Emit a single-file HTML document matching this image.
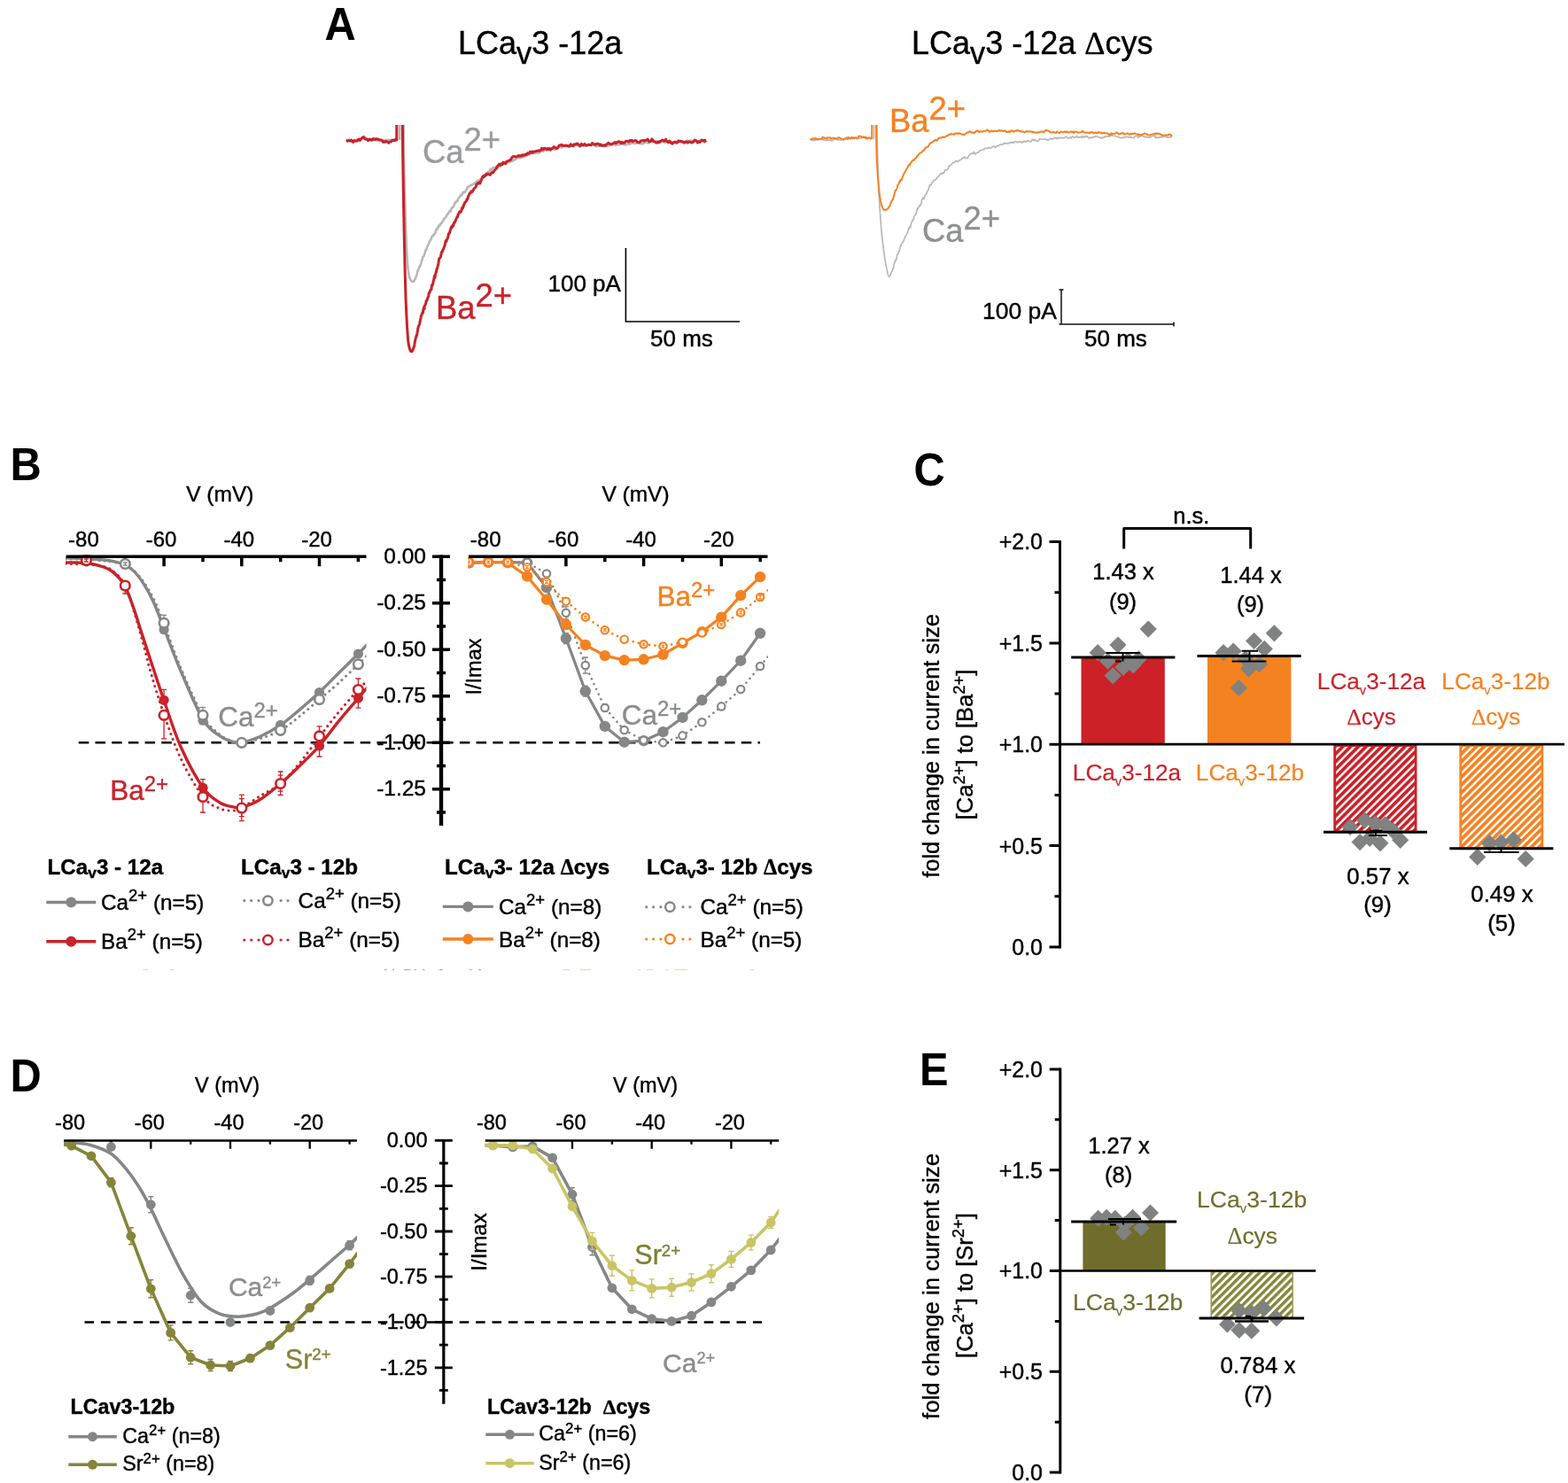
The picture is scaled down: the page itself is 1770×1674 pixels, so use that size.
<!DOCTYPE html>
<html lang="en"><head><meta charset="utf-8"><title>Figure</title>
<style>
html,body{margin:0;padding:0;background:#fff;}
body{width:1770px;height:1674px;overflow:hidden;}
svg{display:block;font-family:"Liberation Sans", sans-serif;}
.d{font-family:"Liberation Serif",serif;}
text{stroke-width:0.4px;}
</style></head>
<body>
<svg width="1770" height="1674" viewBox="0 0 1770 1674">
<rect width="1770" height="1674" fill="#fff"/>
<g id="panelA">
<text transform="translate(366.5 45) scale(0.93 1)" font-size="52.5" font-weight="bold" stroke="none">A</text>
<text x="517" y="61" font-size="36" fill="#000" stroke="#000">LCa<tspan dy="11.2" font-size="34.2">v</tspan><tspan dy="-11.2">3 -12a</tspan></text>
<text x="1029" y="61" font-size="36" fill="#000" stroke="#000">LCa<tspan dy="11.2" font-size="34.2">v</tspan><tspan dy="-11.2">3 -12a </tspan><tspan class="d">Δ</tspan>cys</text>
<path d="M390.8 157.6 L391.4 158.1 L392.2 158 L393.1 157.9 L394.1 157.5 L395.2 157.8 L396.3 158.8 L397.5 159 L398.7 159.5 L399.9 159.3 L400.8 159.2 L401.8 159 L402.7 157.6 L403.7 158.3 L404.7 158.4 L405.7 158.4 L406.8 157 L407.8 156.1 L408.9 156 L409.9 156.2 L411 156.7 L412 156.9 L413 157.3 L414 156.9 L415 157.3 L416 157.6 L417 157.2 L418.1 158.4 L419.1 158.5 L420.1 159 L421.1 158.2 L422.2 157.7 L423.2 157.7 L424.2 157.9 L425.2 158.4 L426.3 158.6 L427.3 158.2 L428.4 157.8 L429.4 157.8 L430.5 158.8 L431.5 158.3 L432.6 158.6 L433.6 158.9 L434.6 157.9 L435.6 158.3 L436.6 159.3 L437.5 157.9 L438.5 158.1 L439.7 158.3 L441 157.9 L442.2 158.5 L443.3 158.5 L444.4 157.6 L445.4 158.4 L446.3 158.8 L447 159.2 L447.6 159.8 M451.2 158 L451.2 141 M455.6 141 L455.6 141.5 L455.6 142.1 L455.6 142.7 L455.6 143.3 L455.6 144 L455.6 144.7 L455.6 145.4 L455.6 146.2 L455.6 146.9 L455.6 147.8 L455.6 148.6 L455.7 149.5 L455.7 150.4 L455.7 151.3 L455.7 152.3 L455.7 153.3 L455.7 154.3 L455.7 155.3 L455.7 156.3 L455.7 157.4 L455.7 158.4 L455.7 159.5 L455.7 160.6 L455.7 161.8 L455.7 162.9 L455.8 164 L455.8 165.2 L455.8 166.4 L455.8 167.6 L455.8 168.7 L455.8 169.9 L455.8 171.1 L455.8 172.3 L455.9 173.6 L455.9 174.8 L455.9 176 L455.9 177.2 L455.9 178.4 L456 179.6 L456 180.9 L456 182 L456 182.9 L456 183.8 L456.1 184.7 L456.1 185.6 L456.1 186.5 L456.1 187.4 L456.1 188.3 L456.1 189.2 L456.2 190.2 L456.2 191.2 L456.2 192.1 L456.2 193.1 L456.3 194.1 L456.3 195.1 L456.3 196.1 L456.3 197.1 L456.3 198.1 L456.4 199.1 L456.4 200.1 L456.4 201.1 L456.4 202.2 L456.5 203.2 L456.5 204.2 L456.5 205.3 L456.5 206.3 L456.6 207.4 L456.6 208.4 L456.6 209.5 L456.7 210.5 L456.7 211.6 L456.7 212.6 L456.7 213.7 L456.8 214.7 L456.8 215.8 L456.8 216.9 L456.8 217.9 L456.9 219 L456.9 220 L456.9 221.1 L457 222.1 L457 223.2 L457 224.2 L457.1 225.2 L457.1 226.3 L457.1 227.3 L457.1 228.3 L457.2 229.3 L457.2 230.4 L457.2 231.4 L457.3 232.4 L457.3 233.4 L457.3 234.3 L457.4 235.3 L457.4 236.3 L457.4 237.3 L457.4 238.2 L457.5 239.2 L457.5 240.1 L457.5 241.2 L457.6 242.3 L457.6 243.4 L457.6 244.5 L457.7 245.6 L457.7 246.7 L457.8 247.8 L457.8 248.9 L457.8 250 L457.9 251.1 L457.9 252.2 L457.9 253.3 L458 254.4 L458 255.5 L458.1 256.6 L458.1 257.7 L458.1 258.8 L458.2 259.9 L458.2 261 L458.2 262 L458.3 263.1 L458.3 264.2 L458.4 265.3 L458.4 266.3 L458.4 267.4 L458.5 268.4 L458.5 269.5 L458.6 270.5 L458.6 271.5 L458.6 272.5 L458.7 273.5 L458.7 274.5 L458.8 275.5 L458.8 276.5 L458.9 277.4 L458.9 278.4 L458.9 279.3 L459 280.2 L459 281.1 L459.1 282 L459.1 282.9 L459.2 283.8 L459.2 284.6 L459.2 285.5 L459.3 286.3 L459.3 287.1 L459.4 287.9 L459.4 288.6 L459.5 289.4 L459.5 290.2 L459.6 291.8 L459.7 293.3 L459.8 294.7 L459.9 296.1 L460 297.4 L460.1 298.6 L460.2 299.7 L460.3 300.8 L460.4 301.9 L460.5 302.9 L460.6 303.8 L460.7 304.7 L460.9 305.6 L461 306.4 L461.1 307.2 L461.2 307.9 L461.3 308.7 L461.5 309.4 L461.6 310.1 L461.7 310.7 L461.9 311.4 L462 312 L462.5 313.8 L463 315.1 L463.6 316.2 L464.2 316.9 L464.8 317.4 L465.4 317.8 L465.9 318 L466.5 318 L467.1 317.6 L467.7 316.8 L468.2 315.6 L468.9 314.3 L469.2 313.5 L469.5 312.7 L469.9 311.9 L470.2 311.1 L470.5 310.8 L470.8 308.4 L471.1 307.1 L471.5 305.4 L471.9 305.7 L472.2 304.1 L472.6 303.4 L473 302.4 L473.3 301.8 L473.6 300.7 L473.9 300.2 L474.3 300.5 L474.6 299.2 L474.9 298.4 L475.2 297.8 L475.6 296.3 L475.9 294.4 L476.3 293.3 L476.7 293.2 L477 291.1 L477.4 290.1 L477.8 290 L478.2 289.5 L478.6 288.3 L479 287.6 L479.4 286.6 L479.8 284.8 L480.2 283.1 L480.6 282.3 L481 282.4 L481.4 281.1 L481.8 279.8 L482.2 278.7 L482.7 277.2 L483.1 276.8 L483.5 275.5 L484 275.3 L484.4 273.2 L484.9 273.2 L485.3 272.2 L485.7 270.5 L486.2 270.7 L486.6 269.9 L487 267.9 L487.5 267.2 L488 267.1 L488.5 266.1 L488.9 266 L489.4 265.5 L489.9 264.8 L490.4 263.8 L490.9 263.5 L491.4 262.6 L491.9 261.5 L492.4 259 L492.9 259 L493.4 259 L493.9 257.6 L494.4 256.4 L494.9 256.8 L495.5 254.4 L496 254.1 L496.6 254.7 L497.2 252.7 L497.8 252.1 L498.4 252.2 L499 250.8 L499.6 250 L500.3 249.4 L500.9 247.7 L501.5 246.8 L502.1 246.3 L502.8 245.9 L503.4 244.9 L504 243.9 L504.6 242.4 L505.2 241.6 L505.8 241.6 L506.3 240.7 L506.9 239.3 L507.5 238.1 L508 239.2 L508.6 238.6 L509.1 237.6 L509.7 234.7 L510.2 234.6 L510.7 234.1 L511.3 234.2 L511.8 233.1 L512.4 231.9 L513 231.1 L513.5 228.9 L514.1 229 L514.7 228.3 L515.3 226.9 L515.9 227 L516.5 227 L517.1 224.7 L517.8 223.5 L518.4 223 L519 222.3 L519.6 221.2 L520.2 219.9 L520.9 220.7 L521.5 220.2 L522.1 218.3 L522.7 216.8 L523.3 217.5 L524 217.1 L524.8 217 L525.5 216.1 L526.3 214.2 L527 213.5 L527.7 211.4 L528.4 210.7 L529.2 210.5 L529.9 210.5 L530.6 209.5 L531.4 209.1 L532.2 208.9 L533 208.5 L533.8 208.3 L534.7 207.6 L535.5 206.8 L536.4 206.7 L537.2 206 L538.1 204.9 L538.9 204.1 L539.8 203.8 L540.6 203.3 L541.4 202.9 L542.2 202.4 L543 201.9 L543.8 201.1 L544.5 199.7 L545.3 199.7 L546.1 199.7 L546.9 199.2 L547.7 198.2 L548.4 197.7 L549.2 196.3 L550 194.6 L550.7 194.6 L551.5 193.7 L552.1 194 L552.8 192.8 L553.5 190.9 L554.1 190.5 L554.9 191.6 L555.6 190.9 L556.5 189.5 L557.5 188.8 L558.5 188.9 L559.4 188.9 L560.1 188.5 L560.9 189 L561.7 188.6 L562.5 187.7 L563.4 187.4 L564.3 187.6 L565.2 187.2 L566.2 186.8 L567.1 185 L568.1 184.4 L569 184.4 L570 183.5 L571 183.7 L572 183.3 L573 183.2 L573.9 182.2 L574.9 183.2 L575.8 182.8 L576.7 181.6 L577.7 180.9 L578.7 181.9 L579.6 180.6 L580.6 180.4 L581.5 180.3 L582.5 179.5 L583.5 178.2 L584.4 178.1 L585.4 178.1 L586.4 178.5 L587.3 178.4 L588.3 177.8 L589.3 177.9 L590.2 177.6 L591.2 177.1 L592.2 176.7 L593.1 176.1 L594.1 176.2 L595.1 175.1 L596 174.6 L597 174.6 L597.9 173.5 L598.9 173.4 L599.9 172.3 L600.8 172.3 L601.8 173 L602.8 173.3 L603.7 173 L604.7 172.5 L605.7 171.5 L606.6 172.7 L607.6 172.5 L608.6 172.7 L609.5 171.5 L610.5 171.1 L611.5 169.7 L612.4 170.4 L613.4 170.9 L614.4 169.3 L615.3 169.4 L616.3 169.8 L617.3 168.5 L618.3 167.6 L619.2 167.4 L620.2 167.5 L621.2 167 L622.2 167.5 L623.2 167.9 L624.1 168.3 L625.1 168.5 L626.1 169.1 L627.1 169.1 L628.1 167.5 L629.1 167 L630.1 166.3 L631.1 165.8 L632.1 166.1 L633 166.2 L634 166.6 L635 165.4 L636 164.9 L637 165.2 L638 165.3 L639.1 165.2 L640.1 165.2 L641.1 164.8 L642.1 165.3 L643.1 165.4 L644.1 165.2 L645.1 164.6 L646.1 164.5 L647.1 162.9 L648 162.9 L649 163.6 L649.9 163 L651 163.6 L651.9 164 L652.9 163.3 L653.8 163.6 L654.6 163.7 L655.5 164.3 L656.3 164.7 L657.2 164.6 L658 164.1 L658.9 164.2 L659.9 164.3 L660.8 164.9 L661.9 164.9 L663 164.4 L664.2 163.6 L665.5 163.7 L667 163.6 L667.7 163.2 L668.5 163.6 L669.4 163.6 L670.2 163.9 L671.1 164.4 L672 164.1 L673 165.5 L673.9 164.7 L674.9 165.1 L675.9 164.7 L676.9 165.1 L677.9 163.1 L678.9 162.9 L680 163.4 L681 163.9 L682.1 165.2 L683.2 164.7 L684.3 165 L685.3 164.8 L686.4 164.8 L687.5 164.5 L688.6 163.8 L689.7 163.8 L690.7 162.8 L691.8 163.6 L692.9 162.7 L693.9 162.9 L695 164.1 L696 163.4 L697 163.1 L698 163.6 L699 163.2 L700 162.4 L701 162.5 L702 162.8 L703.1 163 L704.1 162.2 L705.1 163.2 L706.1 163.7 L707.1 163 L708.2 162.7 L709.2 162.1 L710.2 162.8 L711.2 161.9 L712.2 162.1 L713.1 161.6 L714.1 161.1 L715.1 161.6 L716.1 162.3 L717.1 161.8 L718.1 161.1 L719.1 161.6 L720 161.3 L721 161.3 L722 162.1 L723 162.2 L724 161.3 L725 162.5 L725.9 161.7 L726.9 161.7 L727.9 160.9 L728.9 160.7 L729.9 159.5 L730.9 161 L731.9 161.6 L732.9 160.3 L733.9 159.4 L734.8 158.8 L735.8 160.1 L736.8 159.9 L737.8 160 L738.7 159.9 L739.7 159.9 L740.6 159.4 L741.6 159.7 L742.6 159 L743.5 159.4 L744.5 159.9 L745.5 160.3 L746.5 160.1 L747.4 159.5 L748.4 159.9 L749.4 159.7 L750.4 160.8 L751.4 161 L752.5 160.5 L753.5 160.1 L754.5 159.6 L755.6 159.2 L756.7 159.3 L757.7 159.8 L758.8 160.2 L760 160.5 L760.9 161.5 L761.8 160.5 L762.8 160.3 L763.9 161.9 L764.9 159.9 L766 159.6 L767.1 159.8 L768.2 159.9 L769.3 160.1 L770.4 159.9 L771.6 160.1 L772.8 160 L773.9 160.4 L775.1 159 L776.3 158.7 L777.4 159.1 L778.6 158.7 L779.8 158.5 L780.9 159.3 L782.1 159.1 L783.2 159.7 L784.3 160.1 L785.4 160.1 L786.4 160.2 L787.5 159.9 L788.5 158.9 L789.5 159.2 L790.4 159.6 L791.3 159.3 L792.2 159.3 L793 159.9 L793.8 159.2 L794.6 159.7 L795.2 160.8 L795.9 159.9 L796.5 159.8 L797 159.6" stroke="#b8b8b8" stroke-width="2.6" fill="none" stroke-linejoin="round" stroke-linecap="butt"/>
<path d="M390.8 158.8 L391.4 158.8 L392.2 159.4 L393.2 158.6 L394.3 158.9 L395.5 159.1 L396.6 158 L397.7 159.8 L398.7 160.4 L399.7 158.5 L400.6 159.3 L401.6 158.9 L402.6 159 L403.6 158.9 L404.6 157.2 L405.6 157.1 L406.5 158.3 L407.5 157.2 L408.5 156.1 L409.4 155.1 L410.4 154.5 L411.4 155.4 L412.4 157 L413.4 157.1 L414.4 157.1 L415.4 158.8 L416.4 157.7 L417.4 157 L418.5 157.7 L419.5 158.1 L420.5 157.2 L421.5 156.5 L422.5 157.2 L423.5 157.6 L424.5 156.7 L425.5 157 L426.6 156.9 L427.6 157.8 L428.6 157.9 L429.6 158.1 L430.6 158.1 L431.7 159.3 L432.7 160.4 L433.7 159.8 L434.7 160.4 L435.6 159.6 L436.6 159.7 L437.7 160.3 L438.7 161.3 L439.7 160.3 L440.7 159.9 L441.6 159.8 L442.7 158.3 L443.8 158.6 L445 158.1 L446 158.5 L446.9 157.5 L447.6 156.2 M447.8 159 L447.8 141 M454.4 141 L454.4 141.5 L454.4 142.1 L454.4 142.6 L454.4 143.2 L454.4 143.8 L454.4 144.4 L454.4 145.1 L454.4 145.8 L454.4 146.5 L454.4 147.2 L454.5 148 L454.5 148.8 L454.5 149.6 L454.5 150.4 L454.5 151.3 L454.5 152.2 L454.5 153.1 L454.5 154 L454.5 155 L454.5 155.9 L454.5 156.9 L454.5 158 L454.5 159 L454.5 160.1 L454.6 161.2 L454.6 162.3 L454.6 163.5 L454.6 164.6 L454.6 165.8 L454.6 167.1 L454.6 168.3 L454.6 169.6 L454.7 170.9 L454.7 172.2 L454.7 173.5 L454.7 174.9 L454.7 176.3 L454.7 177.7 L454.8 179.1 L454.8 180.5 L454.8 182 L454.8 182.8 L454.8 183.5 L454.8 184.3 L454.8 185.1 L454.9 185.9 L454.9 186.8 L454.9 187.6 L454.9 188.4 L454.9 189.3 L454.9 190.2 L454.9 191.1 L455 191.9 L455 192.8 L455 193.8 L455 194.7 L455 195.6 L455 196.6 L455 197.5 L455.1 198.5 L455.1 199.4 L455.1 200.4 L455.1 201.4 L455.1 202.4 L455.1 203.4 L455.1 204.4 L455.2 205.4 L455.2 206.4 L455.2 207.4 L455.2 208.4 L455.2 209.5 L455.2 210.5 L455.3 211.6 L455.3 212.6 L455.3 213.7 L455.3 214.7 L455.3 215.8 L455.3 216.8 L455.4 217.9 L455.4 219 L455.4 220 L455.4 221.1 L455.4 222.2 L455.5 223.3 L455.5 224.4 L455.5 225.4 L455.5 226.5 L455.5 227.6 L455.6 228.7 L455.6 229.8 L455.6 230.9 L455.6 232 L455.6 233 L455.6 234.1 L455.7 235.2 L455.7 236.3 L455.7 237.4 L455.7 238.5 L455.7 239.5 L455.8 240.6 L455.8 241.7 L455.8 242.7 L455.8 243.8 L455.8 244.9 L455.9 245.9 L455.9 247 L455.9 248 L455.9 249.1 L455.9 250.1 L456 251.1 L456 252.2 L456 253.2 L456 254.2 L456 255.2 L456.1 256.2 L456.1 257.2 L456.1 258.2 L456.1 259.2 L456.1 260.2 L456.2 261.1 L456.2 262.1 L456.2 263 L456.2 264.1 L456.2 265.2 L456.3 266.2 L456.3 267.3 L456.3 268.4 L456.3 269.4 L456.4 270.5 L456.4 271.6 L456.4 272.6 L456.4 273.7 L456.4 274.8 L456.5 275.9 L456.5 276.9 L456.5 278 L456.5 279.1 L456.6 280.2 L456.6 281.2 L456.6 282.3 L456.6 283.4 L456.7 284.4 L456.7 285.5 L456.7 286.6 L456.7 287.6 L456.8 288.7 L456.8 289.8 L456.8 290.8 L456.8 291.9 L456.8 292.9 L456.9 294 L456.9 295 L456.9 296.1 L456.9 297.1 L457 298.2 L457 299.2 L457 300.2 L457 301.3 L457.1 302.3 L457.1 303.3 L457.1 304.4 L457.1 305.4 L457.2 306.4 L457.2 307.4 L457.2 308.4 L457.2 309.4 L457.3 310.4 L457.3 311.4 L457.3 312.4 L457.3 313.4 L457.4 314.3 L457.4 315.3 L457.4 316.3 L457.5 317.2 L457.5 318.2 L457.5 319.1 L457.5 320.1 L457.6 321 L457.6 321.9 L457.6 322.9 L457.6 323.8 L457.7 324.7 L457.7 325.6 L457.7 326.5 L457.7 327.4 L457.8 328.3 L457.8 329.1 L457.8 330 L457.9 330.9 L457.9 331.7 L457.9 332.6 L457.9 333.4 L458 334.2 L458 335 L458 336.3 L458.1 337.6 L458.1 338.9 L458.2 340.1 L458.2 341.4 L458.3 342.6 L458.3 343.9 L458.4 345.1 L458.4 346.3 L458.5 347.5 L458.5 348.6 L458.6 349.8 L458.6 350.9 L458.7 352.1 L458.7 353.2 L458.8 354.3 L458.8 355.4 L458.9 356.5 L459 357.6 L459 358.6 L459.1 359.7 L459.1 360.7 L459.2 361.7 L459.2 362.7 L459.3 363.7 L459.3 364.7 L459.4 365.6 L459.4 366.5 L459.5 367.5 L459.5 368.4 L459.6 369.3 L459.6 370.1 L459.7 371 L459.7 371.8 L459.8 372.7 L459.9 373.5 L459.9 374.3 L460 375 L460 375.8 L460.1 376.5 L460.1 377.3 L460.2 378 L460.2 378.7 L460.3 379.3 L460.3 380 L460.5 382 L460.6 383.8 L460.8 385.3 L460.9 386.6 L461.1 387.7 L461.2 388.6 L461.4 389.4 L461.5 390 L461.7 390.6 L461.8 391.2 L462 391.7 L462.1 392.3 L462.3 392.9 L462.7 394.4 L463.2 395.6 L463.7 396.5 L464.2 396.9 L464.7 397 L465.2 396.7 L465.6 396 L466.1 394.9 L466.6 393.5 L466.9 392.5 L467.2 391.8 L467.4 391.1 L467.6 390.2 L467.8 389.6 L468 388.2 L468.2 386.5 L468.5 385.2 L468.7 384.1 L469 382.9 L469.3 381.2 L469.6 381.3 L469.8 379.6 L470 379.8 L470.2 378.2 L470.4 378 L470.6 378.2 L470.8 377 L471 375.2 L471.3 374.2 L471.5 373.3 L471.7 370.9 L472 369.9 L472.2 369.5 L472.5 368.3 L472.7 367.6 L473 367.4 L473.2 366.8 L473.5 366.2 L473.7 365.3 L474 363.6 L474.2 362.4 L474.5 361.1 L474.8 359.9 L475.1 358.8 L475.4 356.6 L475.7 356 L476 355.5 L476.3 354.1 L476.6 353.7 L476.8 353.4 L477.1 352.4 L477.5 353.2 L477.8 349.6 L478.1 348.9 L478.4 346.9 L478.7 347.5 L479 348.8 L479.3 345.1 L479.7 344.6 L480 344.3 L480.3 343.1 L480.7 342.6 L481 339.8 L481.4 340.1 L481.7 339.6 L482.1 338.6 L482.4 337.2 L482.8 336.9 L483.1 335.5 L483.5 334.8 L483.8 333.5 L484.1 330.9 L484.5 330.7 L484.8 330.4 L485.1 330.3 L485.4 328.6 L485.7 327.9 L486 327.6 L486.3 326.7 L486.6 326.7 L486.9 326.9 L487.2 324.4 L487.5 321.7 L487.8 321.9 L488.1 322.2 L488.4 321.4 L488.7 320.5 L489 318.4 L489.3 316.7 L489.6 316.5 L489.9 314.5 L490.3 312.1 L490.5 311.2 L490.8 313 L491 313.3 L491.3 311 L491.6 309.2 L491.8 308.6 L492.1 307 L492.4 307.3 L492.6 306 L492.9 304 L493.2 304.3 L493.5 302.6 L493.8 301.9 L494.1 300.8 L494.3 299.5 L494.6 298.9 L494.9 297.3 L495.2 295 L495.5 292.9 L495.8 292 L496.1 291.5 L496.4 291.4 L496.8 291 L497.1 290.8 L497.4 289.9 L497.7 288.3 L498 287 L498.3 284.8 L498.6 284.6 L498.9 284.6 L499.3 284.2 L499.6 283.1 L499.9 282 L500.3 281.8 L500.6 280.6 L500.9 280 L501.3 279.2 L501.6 278 L501.9 277.8 L502.3 275.8 L502.6 274.4 L503 272.8 L503.3 271.5 L503.7 272.2 L504 272.4 L504.3 270.8 L504.7 270 L505 269.6 L505.3 268.7 L505.7 268.1 L506.1 265.3 L506.5 263.7 L507 263.3 L507.4 263.4 L507.8 262 L508.2 260.1 L508.6 259 L509 257.7 L509.4 256.4 L509.8 257.1 L510.2 255.6 L510.6 254.8 L511 255.6 L511.5 255.1 L511.9 253.7 L512.3 251.8 L512.7 251.1 L513.1 251.3 L513.6 250.3 L514 249.9 L514.5 248.3 L515 247.3 L515.5 245.8 L516 245 L516.5 244.9 L517 242.3 L517.5 241.5 L518 240.9 L518.5 239.6 L519.1 238.7 L519.6 238.6 L520.1 239.3 L520.6 238.2 L521.1 237 L521.6 234.5 L522.1 235.4 L522.6 234.1 L523.1 232.9 L523.6 231 L524.1 230.3 L524.6 228.7 L525.1 228.3 L525.6 228 L526.1 227.1 L526.6 226.4 L527.1 224.7 L527.6 225.2 L528.1 223.5 L528.6 221.2 L529.1 220.7 L529.6 219.7 L530 218.5 L530.5 218 L531.1 217.9 L531.6 216.4 L532.1 216 L532.7 216.6 L533.4 216 L534 214.7 L534.6 213.8 L535.3 212.8 L536 211.9 L536.6 211.7 L537.3 210.6 L537.9 207.9 L538.6 207.9 L539.2 206.9 L539.9 207.2 L540.5 206.2 L541.1 205.9 L541.9 207 L542.6 204.8 L543.4 203.1 L544.1 201.6 L544.8 199.7 L545.5 198.7 L546.3 199.6 L547 199.1 L547.7 197.6 L548.5 196.7 L549.2 197.6 L549.9 196.8 L550.7 196.3 L551.5 196.4 L552.2 196.9 L553 197.5 L553.8 196.8 L554.6 195.5 L555.4 194.5 L556.2 194.9 L556.9 194.6 L557.7 192.8 L558.5 192.1 L559.3 191.3 L560.1 190.4 L560.9 189.1 L561.7 187.5 L562.5 186.8 L563.3 185.4 L564.1 186.6 L564.9 186.4 L565.7 184.8 L566.5 185.6 L567.3 185.5 L568.1 183.1 L569 184.3 L569.9 184.1 L570.8 184.8 L571.7 182.4 L572.6 182.2 L573.5 181.8 L574.4 181.3 L575.3 180.8 L576.2 181 L577.1 179 L578 177.8 L578.9 176.8 L579.9 176.7 L580.8 176.5 L581.7 177 L582.7 177.1 L583.6 176.8 L584.5 176 L585.5 175.5 L586.4 176.2 L587.3 176.4 L588.1 175.8 L588.9 175.1 L589.7 176 L590.5 174.8 L591.5 174.9 L592.5 175.2 L593.7 174.1 L595 174.2 L595.8 172.7 L596.6 173.4 L597.4 173.1 L598.3 171.4 L599.2 172.1 L600.2 171.2 L601.2 172.3 L602.2 171.3 L603.2 171 L604.2 171.1 L605.3 170.5 L606.3 170.6 L607.4 169.9 L608.4 170.3 L609.5 170 L610.5 169.8 L611.5 167.3 L612.5 168.8 L613.5 168.7 L614.5 167.2 L615.5 167.6 L616.4 168.1 L617.4 168.8 L618.4 167.4 L619.3 168.5 L620.3 167.8 L621.3 169.3 L622.2 168.1 L623.2 167.9 L624.2 166.9 L625.2 165.6 L626.2 166.6 L627.1 166.9 L628.1 167.5 L629.1 167.3 L630.1 165.9 L631.1 164.2 L632.1 164 L633.1 163.7 L634.1 163.4 L635.1 164.3 L636.1 164.6 L637.1 164.3 L638.1 164.4 L639.1 164.2 L640.2 164.3 L641.2 164.8 L642.2 165.2 L643.2 164.1 L644.2 162.8 L645.2 164.3 L646.2 164.1 L647.2 164.8 L648.2 163 L649.1 162.9 L650.1 163.1 L651.1 162.1 L652.1 162.2 L653 163.2 L653.8 164.1 L654.7 165 L655.5 163.6 L656.4 162.4 L657.2 163.1 L658.1 163.9 L659 163.8 L659.9 162.5 L660.9 163.4 L662 163.9 L663.1 164 L664.4 163.3 L665.8 163.4 L667 163.8 L667.7 163 L668.6 161.5 L669.4 162.3 L670.3 162.8 L671.1 162.8 L672.1 163.4 L673 162.6 L674 162.5 L674.9 162.2 L675.9 162.7 L676.9 163.8 L678 163 L679 164.3 L680 164.6 L681.1 164.2 L682.2 163.8 L683.3 164.4 L684.3 163.3 L685.4 162.6 L686.5 161.4 L687.6 161.9 L688.7 162.8 L689.7 162.7 L690.8 162.5 L691.9 161.9 L692.9 161.8 L694 160.5 L695 161.6 L696.1 161.1 L697.1 160.2 L698.1 159.9 L699 159.7 L700 160.9 L701.1 161.7 L702.1 160.3 L703.1 161.2 L704.2 161.7 L705.2 160.8 L706.2 159.5 L707.2 159.3 L708.2 159.3 L709.2 160 L710.2 159.8 L711.2 158.4 L712.2 159.3 L713.2 158.4 L714.2 159.8 L715.2 158.9 L716.2 158.8 L717.2 158.6 L718.1 158.7 L719.1 160.2 L720.1 160.7 L721.1 160.8 L722.1 160.6 L723.1 159 L724 158.9 L725 158.7 L726 158.3 L727 159.2 L728 158.7 L729 158.5 L730 158 L731 157 L732 158.4 L732.9 159.9 L733.9 159.8 L734.9 158.9 L735.9 156.9 L736.8 158.1 L737.8 159.6 L738.8 159.7 L739.7 160.3 L740.7 161.1 L741.6 161.3 L742.6 160.2 L743.6 160.7 L744.5 160.8 L745.5 159.1 L746.5 158.9 L747.5 158 L748.5 158.5 L749.5 159.4 L750.5 158.6 L751.5 157.3 L752.5 159.2 L753.5 159.6 L754.6 160.8 L755.6 159.2 L756.7 160.2 L757.8 161.5 L758.9 162.3 L760 161 L760.9 160.6 L761.9 160 L762.9 160.6 L763.9 161 L764.9 160.4 L766 158.9 L767.1 159.7 L768.2 159.2 L769.3 159.8 L770.5 159.8 L771.6 160.9 L772.8 161.2 L774 160.1 L775.1 160 L776.3 161.1 L777.5 160 L778.6 160 L779.8 160.6 L780.9 161.1 L782.1 160.7 L783.2 159.1 L784.3 158.1 L785.4 158.7 L786.5 159.2 L787.5 161.2 L788.5 159.7 L789.5 160.3 L790.4 160.4 L791.3 158.6 L792.2 158.1 L793 158.6 L793.8 158.4 L794.6 158.5 L795.2 159.1 L795.9 158.4 L796.5 159 L797 158.5" stroke="#c9222a" stroke-width="3" fill="none" stroke-linejoin="round" stroke-linecap="butt"/>
<text x="477" y="183.8" font-size="36.4" fill="#999b9d" stroke="#999b9d">Ca<tspan dy="-14.2" font-size="36.4">2+</tspan></text>
<text x="492" y="360.3" font-size="36.4" fill="#c9222a" stroke="#c9222a">Ba<tspan dy="-14.2" font-size="36.4">2+</tspan></text>
<path d="M706.4 280 V363 H835" stroke="#000" stroke-width="1.6" fill="none"/>
<text x="618.5" y="329" font-size="26" fill="#000" stroke="#000">100 pA</text>
<text x="734" y="391" font-size="26" fill="#000" stroke="#000">50 ms</text>
<path d="M914.7 157.3 L915.3 157.8 L916 157.3 L916.8 157.6 L917.7 158.7 L918.6 158.3 L919.7 157.9 L920.8 158.2 L921.9 157.6 L923.1 158.3 L924.2 157 L925.4 157.5 L926.6 157.1 L927.7 156.6 L928.8 158.1 L929.9 157.1 L930.9 158.3 L931.9 158.3 L932.9 158.8 L933.9 157.4 L934.9 158.1 L935.9 158.7 L936.9 157.9 L938 157.4 L939 159 L940 158.3 L941 157.4 L942 156.7 L943 157.1 L944 157.2 L945 157.1 L946 158.2 L947 157.4 L948 157.4 L949 158.2 L950.1 156.9 L951.1 157.5 L952.1 158.5 L953.1 156.8 L954.1 155.9 L955.1 155.5 L956.1 154.6 L957.1 155.7 L958.1 154.7 L959.2 155.8 L960.2 157.1 L961.2 155.7 L962.2 155.7 L963.3 154.6 L964.4 155.8 L965.4 155.5 L966.5 155.6 L967.6 155.8 L968.6 156.3 L969.7 156 L970.7 156 L971.7 155.6 L972.6 155.9 L973.5 155.1 L974.4 155.5 L975.4 154.3 L976.7 154.7 L977.9 156.6 L979.1 156.5 L980.3 155.5 L981.3 156.1 L982.3 155.5 L983.1 154.8 L983.8 155 L984.4 156.1 M986.5 157 L986.5 141 M990 141 L990 141.5 L990 142.1 L990 142.7 L990 143.4 L990 144.1 L990.1 144.8 L990.1 145.6 L990.1 146.4 L990.1 147.3 L990.1 148.2 L990.1 149.1 L990.1 150.1 L990.1 151.1 L990.1 152.1 L990.2 153.2 L990.2 154.2 L990.2 155.3 L990.2 156.5 L990.2 157.6 L990.3 158.8 L990.3 160 L990.3 161.2 L990.3 162.4 L990.3 163.6 L990.4 164.9 L990.4 166.2 L990.4 167.4 L990.5 168.7 L990.5 170 L990.5 170.8 L990.5 171.7 L990.6 172.5 L990.6 173.4 L990.6 174.3 L990.6 175.2 L990.7 176.1 L990.7 177 L990.7 178 L990.7 178.9 L990.8 179.9 L990.8 180.8 L990.8 181.8 L990.8 182.8 L990.9 183.8 L990.9 184.8 L990.9 185.8 L990.9 186.9 L991 187.9 L991 188.9 L991 190 L991.1 191 L991.1 192.1 L991.1 193.1 L991.2 194.2 L991.2 195.2 L991.2 196.3 L991.3 197.4 L991.3 198.4 L991.3 199.5 L991.4 200.5 L991.4 201.6 L991.4 202.7 L991.5 203.7 L991.5 204.8 L991.6 205.8 L991.6 206.9 L991.6 207.9 L991.7 208.9 L991.7 210 L991.8 211 L991.8 212 L991.9 213 L991.9 214 L992 215 L992 216 L992.1 217 L992.1 218 L992.2 219.1 L992.2 220.1 L992.3 221.2 L992.3 222.2 L992.4 223.2 L992.4 224.3 L992.5 225.3 L992.6 226.4 L992.6 227.4 L992.7 228.5 L992.8 229.5 L992.8 230.6 L992.9 231.7 L993 232.7 L993 233.8 L993.1 234.8 L993.2 235.8 L993.2 236.9 L993.3 237.9 L993.4 239 L993.4 240 L993.5 241 L993.6 242 L993.7 243 L993.7 244.1 L993.8 245.1 L993.9 246.1 L993.9 247 L994 248 L994.1 249 L994.2 250 L994.2 250.9 L994.3 251.9 L994.4 252.8 L994.5 253.7 L994.5 254.7 L994.6 255.6 L994.7 256.5 L994.8 257.3 L994.8 258.2 L994.9 259.1 L995 259.9 L995.1 261.1 L995.2 262.3 L995.3 263.5 L995.4 264.7 L995.6 265.8 L995.7 267 L995.8 268.1 L995.9 269.2 L996 270.3 L996.2 271.4 L996.3 272.5 L996.4 273.5 L996.5 274.5 L996.7 275.6 L996.8 276.6 L996.9 277.6 L997 278.5 L997.2 279.5 L997.3 280.4 L997.4 281.4 L997.5 282.3 L997.6 283.2 L997.8 284 L997.9 284.9 L998 285.8 L998.1 286.6 L998.2 287.4 L998.3 288.2 L998.5 289 L998.6 289.8 L998.7 291 L998.9 292.3 L999.1 293.6 L999.3 294.8 L999.5 295.9 L999.7 297 L999.9 298.1 L1000.1 299.1 L1000.2 300 L1000.4 300.9 L1000.6 301.8 L1000.8 302.6 L1000.9 303.4 L1001.1 304.2 L1001.3 304.9 L1001.4 305.6 L1001.7 306.7 L1002 308.2 L1002.3 309.5 L1002.6 310.5 L1002.9 311.3 L1003.2 311.9 L1003.5 312.3 L1004 312.4 L1004.4 311.7 L1004.9 310.6 L1005.4 309.2 L1005.8 308.4 L1006.2 307.7 L1006.5 306.9 L1007 306 L1007.4 305.1 L1007.8 303.5 L1008.3 302.3 L1008.6 302.4 L1008.9 300.4 L1009.1 299.2 L1009.4 297.3 L1009.7 297 L1010 296.8 L1010.3 294.8 L1010.6 294 L1010.9 293.9 L1011.2 294.2 L1011.6 293.3 L1011.9 291.7 L1012.2 289.8 L1012.5 288.5 L1012.8 287.6 L1013.1 287.3 L1013.4 286.6 L1013.7 287.1 L1014 286 L1014.3 284.1 L1014.7 284.4 L1015.1 283.7 L1015.5 282.3 L1015.9 280.3 L1016.4 277.8 L1016.8 276.8 L1017.1 277.3 L1017.5 276 L1017.8 274.6 L1018.2 274.4 L1018.6 274 L1019 273.6 L1019.4 273 L1019.9 272.8 L1020.3 270.8 L1020.7 270.4 L1021.2 268.4 L1021.6 268 L1022.1 267 L1022.5 266.1 L1023 265.7 L1023.4 264.3 L1023.9 263.9 L1024.3 263.2 L1024.7 261.8 L1025.2 260.1 L1025.6 258.7 L1026 257.6 L1026.4 256.8 L1026.8 256 L1027.2 257.4 L1027.7 256.1 L1028.1 255.1 L1028.5 253 L1028.9 251.5 L1029.3 250.4 L1029.8 249.8 L1030.2 248.2 L1030.6 248.8 L1031 247.2 L1031.4 247 L1031.9 244.2 L1032.3 243.8 L1032.7 243.3 L1033.1 242.7 L1033.5 242.2 L1034 241.4 L1034.4 240.4 L1034.8 238 L1035.3 237 L1035.7 234.9 L1036.2 235.3 L1036.6 235 L1037.1 234.1 L1037.5 232.7 L1038 231.7 L1038.4 232.4 L1038.9 232.4 L1039.3 230.8 L1039.8 230.4 L1040.2 227.8 L1040.6 225.6 L1041.1 225 L1041.5 224 L1042 223.3 L1042.4 223.1 L1042.9 224.7 L1043.3 222.7 L1043.8 221.6 L1044.3 220.6 L1044.9 219.5 L1045.4 219.2 L1045.9 219.2 L1046.4 216.7 L1046.9 215.9 L1047.5 214.8 L1048 214.2 L1048.5 212.3 L1049 210.6 L1049.5 208.9 L1050.1 209.5 L1050.6 209.4 L1051.1 208.9 L1051.7 206.6 L1052.3 206.3 L1052.9 205.4 L1053.5 204.1 L1054.1 203.4 L1054.8 203.7 L1055.4 203.5 L1056.1 202.7 L1056.7 202.3 L1057.4 200.9 L1058 200.3 L1058.7 199.6 L1059.3 199.3 L1060 198.4 L1060.6 197.6 L1061.2 196.8 L1062 195.6 L1062.7 196.6 L1063.5 195.7 L1064.2 194.9 L1064.9 195.5 L1065.7 194.9 L1066.4 192.3 L1067.2 192 L1067.9 191.7 L1068.6 192 L1069.4 191.6 L1070.1 190.7 L1070.9 188.5 L1071.7 187.1 L1072.5 186.9 L1073.4 186.7 L1074.2 185.2 L1075 184.6 L1075.8 183.9 L1076.6 183.7 L1077.4 183.5 L1078.2 182.7 L1079 181.4 L1079.9 182.1 L1080.8 182.6 L1081.7 181.5 L1082.5 181.5 L1083.4 180.8 L1084.3 180.4 L1085.2 179.9 L1086 178.5 L1086.9 178.5 L1087.8 178.6 L1088.7 177.1 L1089.5 178.1 L1090.3 178.7 L1091 178.7 L1091.8 178.6 L1092.6 177.6 L1093.5 176 L1094.5 174.7 L1095.6 173.6 L1096.9 173.4 L1097.7 173.1 L1098.5 173.3 L1099.3 171.5 L1100.1 173.2 L1101 174.1 L1101.9 172.9 L1102.9 172.5 L1103.9 172 L1104.8 171.4 L1105.8 170.6 L1106.9 170 L1107.9 169 L1108.9 169 L1109.9 168.7 L1110.9 168.6 L1111.9 167.6 L1112.9 167.5 L1113.9 167.4 L1114.9 167.6 L1115.8 166.4 L1116.8 166.7 L1117.8 167.1 L1118.8 167 L1119.7 166.1 L1120.7 165.5 L1121.7 165.1 L1122.7 165.5 L1123.6 166.3 L1124.6 165.4 L1125.6 164.5 L1126.6 164.6 L1127.5 164.4 L1128.5 163.4 L1129.5 162.9 L1130.5 163 L1131.4 163.5 L1132.4 162.4 L1133.4 161.8 L1134.4 162.4 L1135.4 161.5 L1136.4 161.8 L1137.4 162.1 L1138.4 161.9 L1139.3 161 L1140.3 161.1 L1141.3 160.9 L1142.3 161.2 L1143.3 160.5 L1144.3 161.4 L1145.3 159.9 L1146.3 160 L1147.3 160.1 L1148.2 160.8 L1149.2 160.1 L1150.2 160.4 L1151.2 159.7 L1152.2 160.2 L1153.2 161.1 L1154.2 160.2 L1155.2 160.1 L1156.1 159.1 L1157.1 159.7 L1158.1 160.2 L1159.1 159.7 L1160 158.5 L1161 158.8 L1162 159.5 L1163 159.8 L1164 159.7 L1165 157.8 L1166 157.4 L1167 158.6 L1168 157.5 L1169 158.4 L1169.9 159.4 L1170.8 159.2 L1171.7 159.3 L1172.5 158.3 L1173.4 157.1 L1174.3 157.1 L1175.1 157 L1176 157 L1176.9 157.5 L1177.9 157.2 L1178.9 157.2 L1179.9 157.4 L1180.9 157.1 L1182 158.2 L1183.2 157.9 L1184.4 157.4 L1185.7 156.9 L1186.9 156.2 L1187.7 157.2 L1188.5 157 L1189.4 155.9 L1190.2 155.7 L1191.1 155.8 L1192 155.6 L1192.9 156.6 L1193.8 155.5 L1194.7 156.1 L1195.7 156.1 L1196.6 155.2 L1197.6 155.5 L1198.6 155.5 L1199.6 156 L1200.6 155.5 L1201.6 155.8 L1202.7 154.5 L1203.7 154.2 L1204.8 155.3 L1205.8 156.1 L1206.9 155.8 L1207.9 155.2 L1209 156 L1210.1 154.2 L1211.2 154.1 L1212.3 155 L1213.4 155.5 L1214.5 154.6 L1215.6 153.5 L1216.7 155.1 L1217.8 155.2 L1218.9 154.5 L1220 154.7 L1220.9 155.4 L1221.8 153.4 L1222.8 154.8 L1223.7 155.3 L1224.7 153.7 L1225.7 154.7 L1226.7 153.5 L1227.7 154.8 L1228.7 155.1 L1229.7 156.5 L1230.8 155.4 L1231.8 155.1 L1232.8 155.7 L1233.9 154.9 L1234.9 154.3 L1236 154.2 L1237 154.3 L1238.1 153.7 L1239.1 154.4 L1240.2 154.9 L1241.2 154.9 L1242.3 156 L1243.3 155.2 L1244.4 155.9 L1245.4 155 L1246.4 155.4 L1247.5 153.7 L1248.5 154.2 L1249.5 154.2 L1250.5 154 L1251.5 153.8 L1252.5 153.9 L1253.5 153.6 L1254.5 152.5 L1255.4 152.9 L1256.4 153.1 L1257.3 153.3 L1258.2 153.1 L1259.1 153.5 L1260 154.5 L1261.1 154.3 L1262.3 154 L1263.4 155.1 L1264.5 155.5 L1265.5 155.7 L1266.6 156 L1267.6 155.1 L1268.6 154.7 L1269.6 155.4 L1270.6 154.6 L1271.6 154.4 L1272.6 154.7 L1273.5 154.8 L1274.5 154.4 L1275.4 155.1 L1276.4 154.6 L1277.3 155 L1278.2 155.5 L1279.2 155.5 L1280.1 155.5 L1281.1 154.2 L1282 153.3 L1283 153.2 L1284 154 L1284.9 155.1 L1285.9 153.9 L1286.9 154.2 L1287.9 153.6 L1288.9 153.3 L1290 153.5 L1291 154.2 L1292 154.4 L1293 155.1 L1294.1 154 L1295.1 154.7 L1296.3 155.1 L1297.4 154.8 L1298.5 154.9 L1299.7 154.2 L1300.8 153.4 L1302 153.4 L1303.2 153.2 L1304.3 155.6 L1305.5 154.7 L1306.6 155.6 L1307.8 155.1 L1308.9 154.9 L1310.1 155.1 L1311.2 154.1 L1312.2 154.7 L1313.3 154.7 L1314.3 153.4 L1315.3 154.1 L1316.3 154.4 L1317.2 154.6 L1318.1 155.5 L1319 154.6 L1319.8 154.7 L1320.5 155 L1321.2 153.9 L1321.9 154.8 L1322.5 153.5 L1323 152.8" stroke="#b8b8b8" stroke-width="1.7" fill="none" stroke-linejoin="round" stroke-linecap="butt"/>
<path d="M914.7 158 L915.3 157.2 L916 157.3 L916.8 156.3 L917.6 156.8 L918.6 156.3 L919.6 157 L920.7 156.1 L921.9 156.9 L923 156.8 L924.2 157 L925.4 157 L926.5 157.1 L927.7 156.2 L928.8 154.8 L929.8 155.7 L930.8 155.6 L931.8 155.8 L932.8 156.5 L933.9 155.3 L934.9 155.4 L935.9 155.6 L936.9 155.3 L937.9 156.1 L938.9 156.3 L939.9 155.9 L940.9 155.6 L941.9 156.5 L942.9 156.1 L943.9 156.7 L944.9 156.9 L945.9 155.5 L946.9 155.2 L947.9 155.7 L948.9 156.2 L950 156.8 L951 157.2 L952 157.5 L953 156.8 L954 156.5 L955 156.9 L956 156.4 L957 157 L958 155.6 L959 156.3 L960 156.1 L961.1 154.8 L962.1 156 L963.2 156.2 L964.2 156.1 L965.3 155.4 L966.4 155.3 L967.4 156.5 L968.5 155.7 L969.5 153.5 L970.5 153.8 L971.5 153.8 L972.5 154.5 L973.4 154.8 L974.3 154.6 L975.2 154.5 L976.5 155.8 L977.8 154.9 L979 156.6 L980.1 156.1 L981.1 155.4 L982.1 156.3 L982.9 156.7 L983.6 155.9 L984.2 156.6 M984.2 157 L984.2 141 M989 141 L989 141.5 L989 142.2 L989 142.9 L989 143.7 L989 144.5 L989 145.4 L989.1 146.4 L989.1 147.4 L989.1 148.4 L989.1 149.5 L989.1 150.6 L989.1 151.8 L989.1 152.9 L989.1 154.1 L989.1 155.3 L989.2 156.4 L989.2 157.6 L989.2 158.8 L989.2 159.9 L989.2 161 L989.2 162.1 L989.3 163.1 L989.3 164.1 L989.3 165 L989.3 166.1 L989.3 167.2 L989.4 168.2 L989.4 169.1 L989.4 170.1 L989.4 171 L989.5 172 L989.5 172.9 L989.5 173.8 L989.5 174.7 L989.6 175.6 L989.6 176.5 L989.6 177.5 L989.7 178.5 L989.7 179.5 L989.8 180.5 L989.8 181.6 L989.9 182.7 L989.9 183.9 L990 185.1 L990.1 185.9 L990.1 186.8 L990.2 187.7 L990.2 188.7 L990.3 189.7 L990.4 190.7 L990.4 191.7 L990.5 192.7 L990.6 193.8 L990.6 194.8 L990.7 195.9 L990.8 197 L990.9 198.1 L991 199.2 L991 200.3 L991.1 201.4 L991.2 202.5 L991.3 203.6 L991.4 204.6 L991.5 205.7 L991.6 206.7 L991.6 207.7 L991.7 208.8 L991.8 209.7 L991.9 210.7 L992 211.6 L992.1 212.5 L992.2 213.4 L992.2 214.2 L992.3 215.2 L992.5 216.5 L992.7 217.8 L992.8 219 L993 220.2 L993.1 221.3 L993.3 222.4 L993.5 223.5 L993.7 224.4 L993.8 225.4 L994 226.3 L994.2 227.1 L994.3 228 L994.5 228.7 L994.7 229.5 L994.8 230.2 L995 230.9 L995.4 232.4 L995.8 233.6 L996.2 234.6 L996.6 235.3 L997 235.9 L997.4 236.4 L998.3 237.1 L999.3 237 L1000.2 236.8 L1001.1 236.3 L1001.8 235.8 L1002.3 235.5 L1003.1 234.2 L1003.5 233.6 L1003.9 232.9 L1004.3 232.6 L1004.8 231.4 L1005.3 230 L1005.8 229 L1006.3 227.4 L1006.8 226.5 L1007.2 225.6 L1007.6 225 L1007.9 225 L1008.2 224.7 L1008.5 223 L1008.7 222.3 L1009 221.3 L1009.2 220.6 L1009.5 219.3 L1009.8 218.3 L1010.2 216.8 L1010.6 215.2 L1011 214.9 L1011.4 214.9 L1011.7 214.1 L1012.2 213.1 L1012.6 212 L1013 210.5 L1013.5 208.4 L1014 208.4 L1014.4 207.6 L1014.9 206.3 L1015.4 204.9 L1015.9 205.2 L1016.4 202.9 L1016.9 203.6 L1017.4 202.9 L1017.9 203.3 L1018.3 201.1 L1018.8 199.9 L1019.3 198.5 L1019.8 197.7 L1020.2 196.6 L1020.7 195.3 L1021.2 195.3 L1021.7 193.8 L1022.2 192.7 L1022.6 192.4 L1023.1 191.2 L1023.6 190.1 L1024.1 189.7 L1024.6 188.7 L1025.2 187.2 L1025.7 186.6 L1026.3 185.9 L1026.9 186.4 L1027.5 184.6 L1028.1 184.5 L1028.7 183 L1029.4 182.1 L1030 181.2 L1030.6 180.8 L1031.3 180.6 L1031.9 180.8 L1032.6 179.1 L1033.2 179 L1033.9 178.5 L1034.6 177.7 L1035.3 176 L1036 175.7 L1036.7 174.6 L1037.4 173.9 L1038.2 172.9 L1038.9 172.6 L1039.7 172.4 L1040.4 172.1 L1041.1 170.7 L1041.9 170.4 L1042.6 170.3 L1043.3 168.5 L1044.1 168.6 L1044.8 166.5 L1045.6 166.3 L1046.4 165.9 L1047.2 166 L1047.9 165.1 L1048.7 163.7 L1049.4 162.5 L1050.2 161.2 L1051 161.6 L1051.8 160.9 L1052.6 160 L1053.5 160 L1054.3 158.9 L1055.2 158.3 L1056.1 157.7 L1057 158.5 L1057.9 158.7 L1058.7 157.6 L1059.6 155.8 L1060.5 155.8 L1061.3 155.5 L1062.3 155.4 L1063.3 155.3 L1064.2 154.6 L1065.2 154.9 L1066.1 154.9 L1067.1 154.4 L1068 153.7 L1069 153 L1069.9 153.3 L1070.9 152.2 L1071.7 152.1 L1072.5 151.5 L1073.4 150.7 L1074.2 151.4 L1075.1 151.4 L1076.2 151.3 L1077.3 151.7 L1078.6 150.4 L1079.6 150.5 L1080.4 150.8 L1081.2 151.2 L1082.1 150.2 L1083.1 150.8 L1084.1 150.8 L1085.1 151.5 L1086.1 151.7 L1087.1 151.4 L1088.2 152.3 L1089.3 151.4 L1090.4 150.5 L1091.4 150 L1092.5 149.3 L1093.6 149.4 L1094.6 148.2 L1095.7 148.7 L1096.7 149.2 L1097.7 149.9 L1098.6 149.4 L1099.5 150.2 L1100.4 149.3 L1101.3 149.1 L1102.1 147.7 L1103 147.6 L1103.8 147.5 L1104.7 148.9 L1105.6 149.1 L1106.5 148.1 L1107.4 148.5 L1108.4 148.7 L1109.5 148.3 L1110.6 148.2 L1111.8 148 L1113.1 147.6 L1114.5 146.6 L1115.5 147.1 L1116.3 148.3 L1117.1 149 L1118 148.4 L1118.8 147.7 L1119.7 147.7 L1120.6 148.3 L1121.5 148.4 L1122.5 147.8 L1123.4 148.1 L1124.4 147.8 L1125.4 148.2 L1126.4 147.8 L1127.4 146.9 L1128.4 147.3 L1129.5 148 L1130.5 147.2 L1131.6 147.4 L1132.6 148.2 L1133.7 147.8 L1134.8 147.4 L1135.8 148.9 L1136.9 149 L1138 149.2 L1139.1 148.1 L1140.2 149.1 L1141.2 147.6 L1142.3 147.4 L1143.4 148.1 L1144.5 148.9 L1145.5 147.9 L1146.6 147.5 L1147.7 147.8 L1148.7 146.7 L1149.7 147.6 L1150.7 148.1 L1151.7 147.8 L1152.7 148.2 L1153.7 148.7 L1154.7 148.6 L1155.7 148.7 L1156.7 149.5 L1157.7 148.6 L1158.7 148.5 L1159.7 148 L1160.7 148.8 L1161.8 148.3 L1162.8 148.6 L1163.8 148.5 L1164.8 148.4 L1165.8 149.5 L1166.8 148.9 L1167.9 149.6 L1168.9 149.6 L1169.9 150 L1170.9 149.2 L1171.9 149.5 L1172.9 149.5 L1174 148.7 L1175 148.8 L1176 148.6 L1177 148.5 L1178 149.4 L1179 148.6 L1180 147.5 L1181 146.8 L1181.9 147.3 L1182.9 147.4 L1183.9 147.9 L1184.9 148.6 L1185.8 149.8 L1186.8 149.5 L1187.9 149.5 L1188.9 148.8 L1189.9 149.2 L1191 149.9 L1192 150.3 L1193.1 148.5 L1194.1 149.2 L1195.1 150.1 L1196.1 150.2 L1197.2 148.8 L1198.2 148.7 L1199.2 149.2 L1200.2 149.4 L1201.2 148.8 L1202.2 148.4 L1203.2 149.3 L1204.2 148.4 L1205.2 149.6 L1206.2 149.5 L1207.2 149.6 L1208.2 148.6 L1209.2 148.5 L1210.2 149.3 L1211.2 148.4 L1212.1 150.1 L1213.1 149 L1214.1 148.4 L1215.1 148.9 L1216 149.4 L1217 149.9 L1217.9 149.6 L1218.9 149.5 L1219.9 149.4 L1220.9 149.1 L1221.9 147.7 L1222.9 149.1 L1223.9 149.5 L1224.9 149.7 L1225.9 149.4 L1226.9 149.7 L1227.8 149.8 L1228.8 149.8 L1229.7 150.6 L1230.7 149.2 L1231.6 149.7 L1232.6 149.2 L1233.5 149.3 L1234.5 150.6 L1235.4 149.7 L1236.4 149.8 L1237.3 149.6 L1238.3 150.4 L1239.3 149.7 L1240.2 148.9 L1241.2 149.8 L1242.3 149.8 L1243.3 149.8 L1244.3 150.7 L1245.4 150 L1246.5 150 L1247.6 150.3 L1248.7 150.6 L1249.9 150.3 L1250.8 151 L1251.7 152.3 L1252.6 151.3 L1253.5 152.2 L1254.5 150.3 L1255.4 151.3 L1256.4 150.8 L1257.4 150.9 L1258.4 150.6 L1259.4 150.2 L1260.4 149.6 L1261.4 149.8 L1262.4 151 L1263.4 151.7 L1264.5 151.1 L1265.5 150.7 L1266.6 150.3 L1267.6 149.8 L1268.7 151.4 L1269.7 151.6 L1270.8 151.4 L1271.8 150.9 L1272.9 150.3 L1273.9 151.4 L1275 151.8 L1276 150.9 L1277.1 151.6 L1278.1 150.7 L1279.2 151.3 L1280.2 150.6 L1281.2 150.6 L1282.2 151.1 L1283.2 151.4 L1284.2 152 L1285.2 151.2 L1286.2 152.2 L1287.1 152.7 L1288.1 152.1 L1289 152.1 L1290 151.3 L1291.1 151.2 L1292.2 150.4 L1293.3 150.9 L1294.5 151.2 L1295.7 152.2 L1296.8 152.5 L1298 152.6 L1299.2 152 L1300.4 151.6 L1301.5 151.4 L1302.7 151.6 L1303.9 150.4 L1305 151.4 L1306.2 150.5 L1307.3 150.7 L1308.4 151.1 L1309.5 151 L1310.6 152.4 L1311.7 152.1 L1312.7 153 L1313.7 153.3 L1314.7 152.4 L1315.6 152.4 L1316.6 153 L1317.4 152.4 L1318.3 152.3 L1319.1 151.8 L1319.9 151.9 L1320.6 151.7 L1321.3 151.9 L1321.9 152.6 L1322.5 153.2 L1323 152.8" stroke="#f58220" stroke-width="2" fill="none" stroke-linejoin="round" stroke-linecap="butt"/>
<text x="1004" y="149.3" font-size="36.4" fill="#f58220" stroke="#f58220">Ba<tspan dy="-14.2" font-size="36.4">2+</tspan></text>
<text x="1041" y="273" font-size="36.4" fill="#8e9092" stroke="#8e9092">Ca<tspan dy="-14.2" font-size="36.4">2+</tspan></text>
<path d="M1198 327 V366 H1325 M1195.5 327 H1200.5 M1195.5 366 H1198 M1325 363.5 V368.5" stroke="#111" stroke-width="1.5" fill="none"/>
<text x="1109" y="359.5" font-size="26.5" fill="#000" stroke="#000">100 pA</text>
<text x="1224" y="391" font-size="26" fill="#000" stroke="#000">50 ms</text>
</g>
<defs><clipPath id="cb1"><rect x="74" y="626.6" width="339.5" height="320"/></clipPath><clipPath id="cb2"><rect x="528.5" y="626.6" width="338.5" height="320"/></clipPath></defs>
<g id="panelB">
<text transform="translate(11.5 542) scale(0.93 1)" font-size="52.5" font-weight="bold" stroke="none">B</text>
<path d="M88.8 838.3 H858" stroke="#000" stroke-width="2.6" fill="none" stroke-dasharray="11.5 7.2"/>
<text x="94.4" y="616.7" font-size="24" fill="#000" stroke="#000" text-anchor="middle">-80</text>
<text x="182.1" y="616.7" font-size="24" fill="#000" stroke="#000" text-anchor="middle">-60</text>
<text x="269.8" y="616.7" font-size="24" fill="#000" stroke="#000" text-anchor="middle">-40</text>
<text x="357.5" y="616.7" font-size="24" fill="#000" stroke="#000" text-anchor="middle">-20</text>
<path d="M97.4 628.3 v11 M141.2 628.3 v6 M185.1 628.3 v11 M229 628.3 v6 M272.8 628.3 v11 M316.7 628.3 v6 M360.5 628.3 v11 M404.4 628.3 v6" stroke="#000" stroke-width="3.5" fill="none"/>
<text x="248.3" y="565.5" font-size="24.5" fill="#000" stroke="#000" text-anchor="middle">V (mV)</text>
<line x1="498" y1="626.5" x2="498" y2="932" stroke="#000" stroke-width="4.4"/>
<text x="481" y="635.6" font-size="24.5" fill="#000" stroke="#000" text-anchor="end">0.00</text>
<text x="481" y="688.1" font-size="24.5" fill="#000" stroke="#000" text-anchor="end">-0.25</text>
<text x="481" y="740.6" font-size="24.5" fill="#000" stroke="#000" text-anchor="end">-0.50</text>
<text x="481" y="793.1" font-size="24.5" fill="#000" stroke="#000" text-anchor="end">-0.75</text>
<text x="481" y="845.6" font-size="24.5" fill="#000" stroke="#000" text-anchor="end">-1.00</text>
<text x="481" y="898.1" font-size="24.5" fill="#000" stroke="#000" text-anchor="end">-1.25</text>
<path d="M488 628.3 h20 M493 654.5 h10 M488 680.8 h20 M493 707 h10 M488 733.3 h20 M493 759.5 h10 M488 785.8 h20 M493 812 h10 M488 838.3 h20 M493 864.5 h10 M488 890.8 h20 M493 917 h10" stroke="#000" stroke-width="3.6" fill="none"/>
<text x="548.2" y="616.7" font-size="24" fill="#000" stroke="#000" text-anchor="middle">-80</text>
<text x="635.9" y="616.7" font-size="24" fill="#000" stroke="#000" text-anchor="middle">-60</text>
<text x="723.6" y="616.7" font-size="24" fill="#000" stroke="#000" text-anchor="middle">-40</text>
<text x="811.3" y="616.7" font-size="24" fill="#000" stroke="#000" text-anchor="middle">-20</text>
<path d="M551.2 628.3 v11 M595 628.3 v6 M638.9 628.3 v11 M682.8 628.3 v6 M726.6 628.3 v11 M770.5 628.3 v6 M814.3 628.3 v11 M858.2 628.3 v6" stroke="#000" stroke-width="3.5" fill="none"/>
<text x="717.5" y="565.5" font-size="24.5" fill="#000" stroke="#000" text-anchor="middle">V (mV)</text>
<path d="M74 630 C77.9 630.1 90.3 630.2 97.4 630.5 C104.5 630.8 111.7 631.5 116.8 632 C121.9 632.5 124.1 632.7 128.1 633.6 C132.1 634.5 136.8 635.7 140.6 637.5 C144.4 639.3 147.2 640.8 150.8 644.4 C154.4 648 158.4 653.3 162.2 659.2 C166 665.1 169.7 671.7 173.5 680 C177.3 688.3 179.9 696 185 709 C190.1 722 196.9 740.8 204.3 758 C211.7 775.2 221.9 800.4 229.3 812.5 C236.7 824.6 242.8 826.7 248.5 830.9 C254.2 835.1 259.2 836.3 263.3 837.5 C267.4 838.7 267.9 839.3 272.8 838.3 C277.7 837.3 285.5 835 292.8 831.7 C300.1 828.4 309.3 823.3 316.7 818.4 C324.1 813.5 329.8 808.2 337.1 802.1 C344.4 796 353 788.4 360.4 781.5 C367.8 774.6 374 768 381.3 760.8 C388.6 753.5 398.8 743.6 404.4 738 C410 732.4 413.2 728.8 415 727" stroke="#858786" stroke-width="3.4" fill="none" stroke-linejoin="round" clip-path="url(#cb1)"/>
<g clip-path="url(#cb1)">
<circle cx="97.4" cy="629.5" r="5.6" fill="#858786"/>
<circle cx="141.3" cy="636" r="5.6" fill="#858786"/>
<circle cx="185.1" cy="710.7" r="5.6" fill="#858786"/>
<circle cx="229" cy="813.2" r="5.6" fill="#858786"/>
<circle cx="272.8" cy="838.3" r="5.6" fill="#858786"/>
<circle cx="316.6" cy="818.4" r="5.6" fill="#858786"/>
<circle cx="360.5" cy="781.5" r="5.6" fill="#858786"/>
<circle cx="404.4" cy="738" r="5.6" fill="#858786"/>
</g>
<path d="M74 631 C77.9 631.1 90.3 631.2 97.4 631.5 C104.5 631.8 111.7 632.5 116.8 633 C121.9 633.5 124 633.7 128.1 634.5 C132.2 635.3 137.3 636.1 141.1 637.7 C144.9 639.3 147.4 640.7 151 644 C154.6 647.3 158.7 652 162.5 657.5 C166.3 663 170.2 669.2 174 677 C177.8 684.8 179.9 691.5 185 704.5 C190.1 717.5 197.1 737.7 204.5 755 C211.9 772.3 222 796.1 229.3 808.5 C236.6 820.9 242.8 824.8 248.5 829.5 C254.2 834.2 259.2 835.5 263.3 837 C267.4 838.5 267.9 838.8 272.8 838.3 C277.7 837.8 285.5 836.2 292.8 833.9 C300.1 831.6 309.3 828.4 316.7 824.3 C324.1 820.2 329.8 815.3 337.1 809.5 C344.4 803.7 353 795.9 360.4 789.6 C367.8 783.3 374 778.5 381.3 771.9 C388.6 765.3 398.8 755.2 404.4 749.8 C410 744.4 413.2 741.2 415 739.5" stroke="#858786" stroke-width="3" fill="none" stroke-linejoin="round" stroke-dasharray="0.1 6.2" stroke-linecap="round" clip-path="url(#cb1)"/>
<g clip-path="url(#cb1)">
<path d="M185.1 694.3 V703.3 M182.1 694.3 H188.1" stroke="#858786" stroke-width="1.3" fill="none"/>
<path d="M229 798.3 V807.3 M226 798.3 H232" stroke="#858786" stroke-width="1.3" fill="none"/>
<circle cx="97.4" cy="631" r="5.3" fill="#fff" stroke="#858786" stroke-width="2.6"/>
<circle cx="141.3" cy="636.5" r="5.3" fill="#fff" stroke="#858786" stroke-width="2.6"/>
<circle cx="185.1" cy="703.3" r="5.3" fill="#fff" stroke="#858786" stroke-width="2.6"/>
<circle cx="229" cy="807.3" r="5.3" fill="#fff" stroke="#858786" stroke-width="2.6"/>
<circle cx="272.8" cy="838.3" r="5.3" fill="#fff" stroke="#858786" stroke-width="2.6"/>
<circle cx="316.6" cy="824.3" r="5.3" fill="#fff" stroke="#858786" stroke-width="2.6"/>
<circle cx="360.5" cy="789.6" r="5.3" fill="#fff" stroke="#858786" stroke-width="2.6"/>
<circle cx="404.4" cy="749.8" r="5.3" fill="#fff" stroke="#858786" stroke-width="2.6"/>
<path d="M97.4 629.5 V632.5 M94.9 629.5 H99.9 M94.9 632.5 H99.9" stroke="#858786" stroke-width="1.3" fill="none"/>
<path d="M141.3 635 V638 M138.8 635 H143.8 M138.8 638 H143.8" stroke="#858786" stroke-width="1.3" fill="none"/>
</g>
<path d="M74 635 C77.9 635.1 90.3 634.7 97.4 635.5 C104.5 636.3 111.7 638.2 116.8 640 C121.9 641.8 124.1 642.6 128.1 646.1 C132.1 649.6 136.8 654.1 140.6 660.8 C144.4 667.5 147.2 676.3 150.8 686.4 C154.4 696.5 156.5 704.3 162.2 721.6 C167.9 738.9 178 770 185 790.3 C192 810.6 196.9 827 204.3 843.5 C211.7 860 221.9 878.8 229.3 889.2 C236.7 899.7 242.8 902.6 248.5 906.2 C254.2 909.8 259.2 910 263.3 910.9 C267.4 911.8 267.9 912.6 272.8 911.3 C277.7 910 285.5 907.5 292.8 903 C300.1 898.5 309.3 890.7 316.7 884.5 C324.1 878.3 329.8 872.7 337.1 865.6 C344.4 858.5 353 850.4 360.4 842 C367.8 833.6 374 824.4 381.3 815.4 C388.6 806.4 398.8 794.8 404.4 788.1 C410 781.5 413.2 777.6 415 775.5" stroke="#c9222a" stroke-width="3.4" fill="none" stroke-linejoin="round" clip-path="url(#cb1)"/>
<g clip-path="url(#cb1)">
<path d="M185.1 778.3 V790.3 M182.1 778.3 H188.1" stroke="#c9222a" stroke-width="1.3" fill="none"/>
<path d="M229 879.7 V889.2 M226 879.7 H232" stroke="#c9222a" stroke-width="1.3" fill="none"/>
<path d="M272.8 901.6 V921.6 M269.8 901.6 H275.8 M269.8 921.6 H275.8" stroke="#c9222a" stroke-width="1.3" fill="none"/>
<path d="M316.6 875.2 V893.2 M313.6 875.2 H319.6 M313.6 893.2 H319.6" stroke="#c9222a" stroke-width="1.3" fill="none"/>
<path d="M360.5 842 V854 M357.5 854 H363.5" stroke="#c9222a" stroke-width="1.3" fill="none"/>
<path d="M404.4 788.1 V799.1 M401.4 799.1 H407.4" stroke="#c9222a" stroke-width="1.3" fill="none"/>
<circle cx="97.4" cy="633" r="5.6" fill="#c9222a"/>
<circle cx="141.3" cy="660.5" r="5.6" fill="#c9222a"/>
<circle cx="185.1" cy="790.3" r="5.6" fill="#c9222a"/>
<circle cx="229" cy="889.2" r="5.6" fill="#c9222a"/>
<circle cx="272.8" cy="911.6" r="5.6" fill="#c9222a"/>
<circle cx="316.6" cy="884.2" r="5.6" fill="#c9222a"/>
<circle cx="360.5" cy="842" r="5.6" fill="#c9222a"/>
<circle cx="404.4" cy="788.1" r="5.6" fill="#c9222a"/>
</g>
<path d="M74 636.5 C77.9 636.6 90.3 636.5 97.4 637 C104.5 637.5 111.7 638.2 116.8 639.5 C121.9 640.8 124 641.6 128.1 645 C132.2 648.4 137.4 653.2 141.1 660 C144.8 666.8 146.7 675.3 150 686 C153.3 696.7 157.5 711.3 161 724 C164.5 736.7 167 748.3 171 762 C175 775.7 179.4 790.2 185 806 C190.6 821.8 196.9 841.1 204.3 856.7 C211.7 872.3 221.9 890.1 229.3 899.5 C236.7 908.9 242.8 910.2 248.5 912.8 C254.2 915.4 259.2 915.1 263.3 915 C267.4 914.9 267.9 914.8 272.8 912.1 C277.7 909.4 285.5 903.6 292.8 899 C300.1 894.4 309.3 890.6 316.7 884.5 C324.1 878.4 329.8 871.4 337.1 862.6 C344.4 853.9 353 841.6 360.4 832 C367.8 822.4 374 814 381.3 805.1 C388.6 796.2 398.8 784.7 404.4 778.5 C410 772.3 413.2 769.8 415 768" stroke="#c9222a" stroke-width="3" fill="none" stroke-linejoin="round" stroke-dasharray="0.1 6.2" stroke-linecap="round" clip-path="url(#cb1)"/>
<g clip-path="url(#cb1)">
<path d="M141.3 661 V670 M138.3 670 H144.3" stroke="#c9222a" stroke-width="1.3" fill="none"/>
<path d="M185.1 807.3 V833.8 M182.1 833.8 H188.1" stroke="#c9222a" stroke-width="1.3" fill="none"/>
<path d="M229 899.5 V917 M226 917 H232" stroke="#c9222a" stroke-width="1.3" fill="none"/>
<path d="M272.8 897.1 V926.6 M269.8 897.1 H275.8 M269.8 926.6 H275.8" stroke="#c9222a" stroke-width="1.3" fill="none"/>
<path d="M316.6 871 V897.5 M313.6 871 H319.6 M313.6 897.5 H319.6" stroke="#c9222a" stroke-width="1.3" fill="none"/>
<path d="M360.5 819.9 V830.9 M357.5 819.9 H363.5" stroke="#c9222a" stroke-width="1.3" fill="none"/>
<path d="M404.4 766 V778.5 M401.4 766 H407.4" stroke="#c9222a" stroke-width="1.3" fill="none"/>
<circle cx="97.4" cy="632.5" r="5.3" fill="#fff" stroke="#c9222a" stroke-width="2.6"/>
<circle cx="141.3" cy="661" r="5.3" fill="#fff" stroke="#c9222a" stroke-width="2.6"/>
<circle cx="185.1" cy="807.3" r="5.3" fill="#fff" stroke="#c9222a" stroke-width="2.6"/>
<circle cx="229" cy="899.5" r="5.3" fill="#fff" stroke="#c9222a" stroke-width="2.6"/>
<circle cx="272.8" cy="912.1" r="5.3" fill="#fff" stroke="#c9222a" stroke-width="2.6"/>
<circle cx="316.6" cy="884.5" r="5.3" fill="#fff" stroke="#c9222a" stroke-width="2.6"/>
<circle cx="360.5" cy="830.9" r="5.3" fill="#fff" stroke="#c9222a" stroke-width="2.6"/>
<circle cx="404.4" cy="778.5" r="5.3" fill="#fff" stroke="#c9222a" stroke-width="2.6"/>
<path d="M97.4 631 V634 M94.9 631 H99.9 M94.9 634 H99.9" stroke="#c9222a" stroke-width="1.3" fill="none"/>
</g>
<text x="246.3" y="819.6" font-size="31.5" fill="#8a8c8e" stroke="#8a8c8e">Ca<tspan dy="-10.1" font-size="23.9">2+</tspan></text>
<text x="124.2" y="902.6" font-size="31.5" fill="#c9222a" stroke="#c9222a">Ba<tspan dy="-10.1" font-size="23.9">2+</tspan></text>
<path d="M529.3 635.6 L551.2 634.7 L573.1 634.7 L595.1 635.2 L617 663.2 L638.9 720.6 L660.8 780.2 L682.8 819.9 L704.7 837.7 L726.6 836.2 L748.5 826.2 L770.5 809.9 L792.4 790.3 L814.3 768.7 L836.2 745.7 L858.1 714.8" stroke="#858786" stroke-width="3.2" fill="none" stroke-linejoin="round" clip-path="url(#cb2)"/>
<g clip-path="url(#cb2)">
<path d="M638.9 714.6 V726.6 M635.9 714.6 H641.9 M635.9 726.6 H641.9" stroke="#858786" stroke-width="1.3" fill="none"/>
<path d="M660.8 774.2 V786.2 M657.8 774.2 H663.8 M657.8 786.2 H663.8" stroke="#858786" stroke-width="1.3" fill="none"/>
<circle cx="529.3" cy="635.6" r="6.2" fill="#858786"/>
<circle cx="551.2" cy="634.7" r="6.2" fill="#858786"/>
<circle cx="573.1" cy="634.7" r="6.2" fill="#858786"/>
<circle cx="595.1" cy="635.2" r="6.2" fill="#858786"/>
<circle cx="617" cy="663.2" r="6.2" fill="#858786"/>
<circle cx="638.9" cy="720.6" r="6.2" fill="#858786"/>
<circle cx="660.8" cy="780.2" r="6.2" fill="#858786"/>
<circle cx="682.8" cy="819.9" r="6.2" fill="#858786"/>
<circle cx="704.7" cy="837.7" r="6.2" fill="#858786"/>
<circle cx="726.6" cy="836.2" r="6.2" fill="#858786"/>
<circle cx="748.5" cy="826.2" r="6.2" fill="#858786"/>
<circle cx="770.5" cy="809.9" r="6.2" fill="#858786"/>
<circle cx="792.4" cy="790.3" r="6.2" fill="#858786"/>
<circle cx="814.3" cy="768.7" r="6.2" fill="#858786"/>
<circle cx="836.2" cy="745.7" r="6.2" fill="#858786"/>
<circle cx="858.1" cy="714.8" r="6.2" fill="#858786"/>
</g>
<path d="M529.3 634.5 L551.2 634.5 L573.1 634.5 L595.1 634.9 L617 647.5 L638.9 691.8 L660.8 751 L682.8 799 L704.7 824.1 L726.6 835.6 L748.5 838.3 L770.5 830.4 L792.4 815.3 L814.3 797.4 L836.2 778.1 L858.1 752 L870 737.4" stroke="#858786" stroke-width="2.6" fill="none" stroke-linejoin="round" stroke-dasharray="0.1 6.2" stroke-linecap="round" clip-path="url(#cb2)"/>
<g clip-path="url(#cb2)">
<path d="M638.9 684.8 V698.8 M635.9 684.8 H641.9 M635.9 698.8 H641.9" stroke="#858786" stroke-width="1.3" fill="none"/>
<path d="M660.8 742 V760 M657.8 742 H663.8 M657.8 760 H663.8" stroke="#858786" stroke-width="1.3" fill="none"/>
<path d="M682.8 795 V803 M679.8 795 H685.8 M679.8 803 H685.8" stroke="#858786" stroke-width="1.3" fill="none"/>
<circle cx="529.3" cy="634.5" r="4.2" fill="#fff" stroke="#858786" stroke-width="2.2"/>
<circle cx="551.2" cy="634.5" r="4.2" fill="#fff" stroke="#858786" stroke-width="2.2"/>
<circle cx="573.1" cy="634.5" r="4.2" fill="#fff" stroke="#858786" stroke-width="2.2"/>
<circle cx="595.1" cy="634.9" r="4.2" fill="#fff" stroke="#858786" stroke-width="2.2"/>
<circle cx="617" cy="647.5" r="4.2" fill="#fff" stroke="#858786" stroke-width="2.2"/>
<circle cx="638.9" cy="691.8" r="4.2" fill="#fff" stroke="#858786" stroke-width="2.2"/>
<circle cx="660.8" cy="751" r="4.2" fill="#fff" stroke="#858786" stroke-width="2.2"/>
<circle cx="682.8" cy="799" r="4.2" fill="#fff" stroke="#858786" stroke-width="2.2"/>
<circle cx="704.7" cy="824.1" r="4.2" fill="#fff" stroke="#858786" stroke-width="2.2"/>
<circle cx="726.6" cy="835.6" r="4.2" fill="#fff" stroke="#858786" stroke-width="2.2"/>
<circle cx="748.5" cy="838.3" r="4.2" fill="#fff" stroke="#858786" stroke-width="2.2"/>
<circle cx="770.5" cy="830.4" r="4.2" fill="#fff" stroke="#858786" stroke-width="2.2"/>
<circle cx="792.4" cy="815.3" r="4.2" fill="#fff" stroke="#858786" stroke-width="2.2"/>
<circle cx="814.3" cy="797.4" r="4.2" fill="#fff" stroke="#858786" stroke-width="2.2"/>
<circle cx="836.2" cy="778.1" r="4.2" fill="#fff" stroke="#858786" stroke-width="2.2"/>
<circle cx="858.1" cy="752" r="4.2" fill="#fff" stroke="#858786" stroke-width="2.2"/>
</g>
<path d="M529.3 634.5 L551.2 634.5 L573.1 635.2 L595.1 650.6 L617 676.7 L638.9 705 L660.8 728 L682.8 740.1 L704.7 745.1 L726.6 744.3 L748.5 738.8 L770.5 725.9 L792.4 713.3 L814.3 696.6 L836.2 672.1 L858.1 651.2" stroke="#f58220" stroke-width="3.2" fill="none" stroke-linejoin="round" clip-path="url(#cb2)"/>
<g clip-path="url(#cb2)">
<circle cx="529.3" cy="634.5" r="6.2" fill="#f58220"/>
<circle cx="551.2" cy="634.5" r="6.2" fill="#f58220"/>
<circle cx="573.1" cy="635.2" r="6.2" fill="#f58220"/>
<circle cx="595.1" cy="650.6" r="6.2" fill="#f58220"/>
<circle cx="617" cy="676.7" r="6.2" fill="#f58220"/>
<circle cx="638.9" cy="705" r="6.2" fill="#f58220"/>
<circle cx="660.8" cy="728" r="6.2" fill="#f58220"/>
<circle cx="682.8" cy="740.1" r="6.2" fill="#f58220"/>
<circle cx="704.7" cy="745.1" r="6.2" fill="#f58220"/>
<circle cx="726.6" cy="744.3" r="6.2" fill="#f58220"/>
<circle cx="748.5" cy="738.8" r="6.2" fill="#f58220"/>
<circle cx="770.5" cy="725.9" r="6.2" fill="#f58220"/>
<circle cx="792.4" cy="713.3" r="6.2" fill="#f58220"/>
<circle cx="814.3" cy="696.6" r="6.2" fill="#f58220"/>
<circle cx="836.2" cy="672.1" r="6.2" fill="#f58220"/>
<circle cx="858.1" cy="651.2" r="6.2" fill="#f58220"/>
</g>
<path d="M529.3 634.5 L551.2 634.5 L573.1 634.5 L595.1 640.2 L617 656.9 L638.9 678.8 L660.8 696.6 L682.8 711.2 L704.7 721.7 L726.6 727.3 L748.5 729.6 L770.5 724.8 L792.4 714.4 L814.3 705 L836.2 691.4 L858.1 674 L870 663.2" stroke="#f58220" stroke-width="2.6" fill="none" stroke-linejoin="round" stroke-dasharray="0.1 6.2" stroke-linecap="round" clip-path="url(#cb2)"/>
<g clip-path="url(#cb2)">
<circle cx="529.3" cy="634.5" r="4.2" fill="#fff" stroke="#f58220" stroke-width="2.2"/>
<circle cx="551.2" cy="634.5" r="4.2" fill="#fff" stroke="#f58220" stroke-width="2.2"/>
<circle cx="573.1" cy="634.5" r="4.2" fill="#fff" stroke="#f58220" stroke-width="2.2"/>
<circle cx="595.1" cy="640.2" r="4.2" fill="#fff" stroke="#f58220" stroke-width="2.2"/>
<circle cx="617" cy="656.9" r="4.2" fill="#fff" stroke="#f58220" stroke-width="2.2"/>
<circle cx="638.9" cy="678.8" r="4.2" fill="#fff" stroke="#f58220" stroke-width="2.2"/>
<circle cx="660.8" cy="696.6" r="4.2" fill="#fff" stroke="#f58220" stroke-width="2.2"/>
<circle cx="682.8" cy="711.2" r="4.2" fill="#fff" stroke="#f58220" stroke-width="2.2"/>
<circle cx="704.7" cy="721.7" r="4.2" fill="#fff" stroke="#f58220" stroke-width="2.2"/>
<circle cx="726.6" cy="727.3" r="4.2" fill="#fff" stroke="#f58220" stroke-width="2.2"/>
<circle cx="748.5" cy="729.6" r="4.2" fill="#fff" stroke="#f58220" stroke-width="2.2"/>
<circle cx="770.5" cy="724.8" r="4.2" fill="#fff" stroke="#f58220" stroke-width="2.2"/>
<circle cx="792.4" cy="714.4" r="4.2" fill="#fff" stroke="#f58220" stroke-width="2.2"/>
<circle cx="814.3" cy="705" r="4.2" fill="#fff" stroke="#f58220" stroke-width="2.2"/>
<circle cx="836.2" cy="691.4" r="4.2" fill="#fff" stroke="#f58220" stroke-width="2.2"/>
<circle cx="858.1" cy="674" r="4.2" fill="#fff" stroke="#f58220" stroke-width="2.2"/>
<path d="M529.3 633.3 V635.7 M527.3 633.3 H531.3 M527.3 635.7 H531.3" stroke="#f58220" stroke-width="1.3" fill="none"/>
<path d="M551.2 633.3 V635.7 M549.2 633.3 H553.2 M549.2 635.7 H553.2" stroke="#f58220" stroke-width="1.3" fill="none"/>
<path d="M573.1 633.3 V635.7 M571.1 633.3 H575.1 M571.1 635.7 H575.1" stroke="#f58220" stroke-width="1.3" fill="none"/>
<path d="M595.1 638.7 V641.7 M593.1 638.7 H597.1 M593.1 641.7 H597.1" stroke="#f58220" stroke-width="1.3" fill="none"/>
<path d="M617 655.4 V658.4 M615 655.4 H619 M615 658.4 H619" stroke="#f58220" stroke-width="1.3" fill="none"/>
<path d="M660.8 695.4 V697.8 M658.8 695.4 H662.8 M658.8 697.8 H662.8" stroke="#f58220" stroke-width="1.3" fill="none"/>
<path d="M682.8 710 V712.4 M680.8 710 H684.8 M680.8 712.4 H684.8" stroke="#f58220" stroke-width="1.3" fill="none"/>
<path d="M726.6 726.1 V728.5 M724.6 726.1 H728.6 M724.6 728.5 H728.6" stroke="#f58220" stroke-width="1.3" fill="none"/>
<path d="M748.5 728.4 V730.8 M746.5 728.4 H750.5 M746.5 730.8 H750.5" stroke="#f58220" stroke-width="1.3" fill="none"/>
<path d="M814.3 703.8 V706.2 M812.3 703.8 H816.3 M812.3 706.2 H816.3" stroke="#f58220" stroke-width="1.3" fill="none"/>
<path d="M836.2 689.9 V692.9 M834.2 689.9 H838.2 M834.2 692.9 H838.2" stroke="#f58220" stroke-width="1.3" fill="none"/>
<path d="M858.1 672 V676 M856.1 672 H860.1 M856.1 676 H860.1" stroke="#f58220" stroke-width="1.3" fill="none"/>
</g>
<text x="741.5" y="683.6" font-size="31.5" fill="#f58220" stroke="#f58220">Ba<tspan dy="-10.1" font-size="23.9">2+</tspan></text>
<text x="701.8" y="817.6" font-size="31.5" fill="#8a8c8e" stroke="#8a8c8e">Ca<tspan dy="-10.1" font-size="23.9">2+</tspan></text>
<line x1="74.6" y1="628.3" x2="413.5" y2="628.3" stroke="#000" stroke-width="3.6"/>
<line x1="529" y1="628.3" x2="866.5" y2="628.3" stroke="#000" stroke-width="3.6"/>
<text x="543.2" y="752.5" font-size="23.5" fill="#000" stroke="#000" text-anchor="middle" transform="rotate(-90 543.2 752.5)">I/Imax</text>
<text x="53.5" y="986.5" font-size="24.2" fill="#000" stroke="#000" font-weight="bold">LCa<tspan dy="4.8" font-size="17.4">v</tspan><tspan dy="-4.8">3 - 12a</tspan></text>
<text x="272" y="986.5" font-size="24.2" fill="#000" stroke="#000" font-weight="bold">LCa<tspan dy="4.8" font-size="17.4">v</tspan><tspan dy="-4.8">3 - 12b</tspan></text>
<text x="502" y="986.5" font-size="24.2" fill="#000" stroke="#000" font-weight="bold">LCa<tspan dy="4.8" font-size="17.4">v</tspan><tspan dy="-4.8">3- 12a </tspan><tspan class="d" font-weight="bold">Δ</tspan>cys</text>
<text x="730" y="986.5" font-size="24.2" fill="#000" stroke="#000" font-weight="bold">LCa<tspan dy="4.8" font-size="17.4">v</tspan><tspan dy="-4.8">3- 12b </tspan><tspan class="d" font-weight="bold">Δ</tspan>cys</text>
<line x1="52.3" y1="1018.5" x2="108.3" y2="1018.5" stroke="#858786" stroke-width="3.4"/>
<circle cx="80.3" cy="1018.5" r="6" fill="#858786"/>
<text x="114" y="1027" font-size="24.3" fill="#000" stroke="#000">Ca<tspan dy="-10" font-size="18.5">2+</tspan><tspan dy="10"> (n=5)</tspan></text>
<line x1="52.3" y1="1062.8" x2="108.3" y2="1062.8" stroke="#c9222a" stroke-width="3.4"/>
<circle cx="80.3" cy="1062.8" r="6" fill="#c9222a"/>
<text x="114" y="1071.3" font-size="24.3" fill="#000" stroke="#000">Ba<tspan dy="-10" font-size="18.5">2+</tspan><tspan dy="10"> (n=5)</tspan></text>
<circle cx="275.8" cy="1016.6" r="1.6" fill="#858786"/>
<circle cx="283.7" cy="1016.6" r="1.6" fill="#858786"/>
<circle cx="292" cy="1016.6" r="1.6" fill="#858786"/>
<circle cx="317.1" cy="1016.6" r="1.6" fill="#858786"/>
<circle cx="325" cy="1016.6" r="1.6" fill="#858786"/>
<circle cx="302.4" cy="1016.6" r="5.2" fill="#fff" stroke="#858786" stroke-width="2.5"/>
<text x="336.6" y="1024.5" font-size="24.3" fill="#000" stroke="#000">Ca<tspan dy="-10" font-size="18.5">2+</tspan><tspan dy="10"> (n=5)</tspan></text>
<circle cx="275.8" cy="1061" r="1.6" fill="#c9222a"/>
<circle cx="283.7" cy="1061" r="1.6" fill="#c9222a"/>
<circle cx="292" cy="1061" r="1.6" fill="#c9222a"/>
<circle cx="317.1" cy="1061" r="1.6" fill="#c9222a"/>
<circle cx="325" cy="1061" r="1.6" fill="#c9222a"/>
<circle cx="302.4" cy="1061" r="5.2" fill="#fff" stroke="#c9222a" stroke-width="2.5"/>
<text x="336.6" y="1069" font-size="24.3" fill="#000" stroke="#000">Ba<tspan dy="-10" font-size="18.5">2+</tspan><tspan dy="10"> (n=5)</tspan></text>
<line x1="499.8" y1="1023.4" x2="556.8" y2="1023.4" stroke="#858786" stroke-width="3.4"/>
<circle cx="528.3" cy="1023.4" r="6" fill="#858786"/>
<text x="563" y="1032" font-size="24.3" fill="#000" stroke="#000">Ca<tspan dy="-10" font-size="18.5">2+</tspan><tspan dy="10"> (n=8)</tspan></text>
<line x1="499.8" y1="1060" x2="556.8" y2="1060" stroke="#f58220" stroke-width="3.4"/>
<circle cx="528.3" cy="1060" r="6" fill="#f58220"/>
<text x="563" y="1068.7" font-size="24.3" fill="#000" stroke="#000">Ba<tspan dy="-10" font-size="18.5">2+</tspan><tspan dy="10"> (n=8)</tspan></text>
<circle cx="729.7" cy="1023.8" r="1.6" fill="#858786"/>
<circle cx="737.6" cy="1023.8" r="1.6" fill="#858786"/>
<circle cx="745.9" cy="1023.8" r="1.6" fill="#858786"/>
<circle cx="771" cy="1023.8" r="1.6" fill="#858786"/>
<circle cx="778.9" cy="1023.8" r="1.6" fill="#858786"/>
<circle cx="756.3" cy="1023.8" r="5.2" fill="#fff" stroke="#858786" stroke-width="2.5"/>
<text x="790.5" y="1032" font-size="24.3" fill="#000" stroke="#000">Ca<tspan dy="-10" font-size="18.5">2+</tspan><tspan dy="10"> (n=5)</tspan></text>
<circle cx="729.7" cy="1060" r="1.6" fill="#f58220"/>
<circle cx="737.6" cy="1060" r="1.6" fill="#f58220"/>
<circle cx="745.9" cy="1060" r="1.6" fill="#f58220"/>
<circle cx="771" cy="1060" r="1.6" fill="#f58220"/>
<circle cx="778.9" cy="1060" r="1.6" fill="#f58220"/>
<circle cx="756.3" cy="1060" r="5.2" fill="#fff" stroke="#f58220" stroke-width="2.5"/>
<text x="790.5" y="1068.7" font-size="24.3" fill="#000" stroke="#000">Ba<tspan dy="-10" font-size="18.5">2+</tspan><tspan dy="10"> (n=5)</tspan></text>
</g>
<defs>
<pattern id="hr" patternUnits="userSpaceOnUse" width="6.2" height="6.2" patternTransform="rotate(45) translate(-1.91 0)"><rect width="6.2" height="6.2" fill="#fff"/><rect width="3.8" height="6.2" fill="#c9222a"/></pattern>
<pattern id="ho" patternUnits="userSpaceOnUse" width="6.2" height="6.2" patternTransform="rotate(45) translate(-0.7 0)"><rect width="6.2" height="6.2" fill="#fff"/><rect width="3.8" height="6.2" fill="#f58220"/></pattern>
</defs>
<g id="panelC">
<text transform="translate(1031.5 547.5) scale(0.93 1)" font-size="52.5" font-weight="bold" stroke="none">C</text>
<line x1="1196.5" y1="610" x2="1196.5" y2="1070.5" stroke="#000" stroke-width="3"/>
<text x="1177" y="620.4" font-size="25" fill="#000" stroke="#000" text-anchor="end">+2.0</text>
<text x="1177" y="734.8" font-size="25" fill="#000" stroke="#000" text-anchor="end">+1.5</text>
<text x="1177" y="849.1" font-size="25" fill="#000" stroke="#000" text-anchor="end">+1.0</text>
<text x="1177" y="963.5" font-size="25" fill="#000" stroke="#000" text-anchor="end">+0.5</text>
<text x="1177" y="1077.9" font-size="25" fill="#000" stroke="#000" text-anchor="end">0.0</text>
<path d="M1196.5 611.5 h-12 M1196.5 668.7 h-6 M1196.5 725.9 h-12 M1196.5 783.1 h-6 M1196.5 840.2 h-12 M1196.5 897.4 h-6 M1196.5 954.6 h-12 M1196.5 1011.8 h-6 M1196.5 1069 h-12" stroke="#000" stroke-width="3" fill="none"/>
<text x="1059.5" y="842" font-size="25.5" fill="#000" stroke="#000" text-anchor="middle" transform="rotate(-90 1059.5 842)">fold change in current size</text>
<text x="1098" y="840.5" font-size="25.5" fill="#000" stroke="#000" text-anchor="middle" transform="rotate(-90 1098 840.5)">[Ca<tspan dy="-9.2" font-size="18.4">2+</tspan><tspan dy="9.2">] to [Ba</tspan><tspan dy="-9.2" font-size="18.4">2+</tspan><tspan dy="9.2">]</tspan></text>
<rect x="1220.5" y="742" width="94.3" height="98" fill="#cd2027"/>
<rect x="1363" y="740.6" width="94.4" height="99.5" fill="#f58220"/>
<rect x="1506.7" y="841.5" width="91.4" height="97.5" fill="url(#hr)" stroke="#c9222a" stroke-width="2.8"/>
<rect x="1648.8" y="841.5" width="92.1" height="116.2" fill="url(#ho)" stroke="#f58220" stroke-width="2.8"/>
<path d="M1296.2 700.5 l9.6 9.6 l-9.6 9.6 l-9.6 -9.6 z" fill="#7f8281"/>
<path d="M1262 718.4 l9.6 9.6 l-9.6 9.6 l-9.6 -9.6 z" fill="#7f8281"/>
<path d="M1239.2 727.1 l9.6 9.6 l-9.6 9.6 l-9.6 -9.6 z" fill="#7f8281"/>
<path d="M1250.6 736.6 l9.6 9.6 l-9.6 9.6 l-9.6 -9.6 z" fill="#7f8281"/>
<path d="M1273.1 735.8 l9.6 9.6 l-9.6 9.6 l-9.6 -9.6 z" fill="#7f8281"/>
<path d="M1268 743.7 l9.6 9.6 l-9.6 9.6 l-9.6 -9.6 z" fill="#7f8281"/>
<path d="M1279.1 741.3 l9.6 9.6 l-9.6 9.6 l-9.6 -9.6 z" fill="#7f8281"/>
<path d="M1285.4 734.2 l9.6 9.6 l-9.6 9.6 l-9.6 -9.6 z" fill="#7f8281"/>
<path d="M1256.2 753.2 l9.6 9.6 l-9.6 9.6 l-9.6 -9.6 z" fill="#7f8281"/>
<path d="M1438.4 705.2 l9.6 9.6 l-9.6 9.6 l-9.6 -9.6 z" fill="#7f8281"/>
<path d="M1415.6 713.9 l9.6 9.6 l-9.6 9.6 l-9.6 -9.6 z" fill="#7f8281"/>
<path d="M1427.3 722.8 l9.6 9.6 l-9.6 9.6 l-9.6 -9.6 z" fill="#7f8281"/>
<path d="M1381.1 727.1 l9.6 9.6 l-9.6 9.6 l-9.6 -9.6 z" fill="#7f8281"/>
<path d="M1392.2 725.5 l9.6 9.6 l-9.6 9.6 l-9.6 -9.6 z" fill="#7f8281"/>
<path d="M1405.7 734.2 l9.6 9.6 l-9.6 9.6 l-9.6 -9.6 z" fill="#7f8281"/>
<path d="M1421.5 740.2 l9.6 9.6 l-9.6 9.6 l-9.6 -9.6 z" fill="#7f8281"/>
<path d="M1409.6 745.3 l9.6 9.6 l-9.6 9.6 l-9.6 -9.6 z" fill="#7f8281"/>
<path d="M1398.5 766.9 l9.6 9.6 l-9.6 9.6 l-9.6 -9.6 z" fill="#7f8281"/>
<path d="M1540.6 916.4 l9.6 9.6 l-9.6 9.6 l-9.6 -9.6 z" fill="#7f8281"/>
<path d="M1524 924 l9.6 9.6 l-9.6 9.6 l-9.6 -9.6 z" fill="#7f8281"/>
<path d="M1552.5 920.1 l9.6 9.6 l-9.6 9.6 l-9.6 -9.6 z" fill="#7f8281"/>
<path d="M1563.6 921.2 l9.6 9.6 l-9.6 9.6 l-9.6 -9.6 z" fill="#7f8281"/>
<path d="M1535.1 941 l9.6 9.6 l-9.6 9.6 l-9.6 -9.6 z" fill="#7f8281"/>
<path d="M1546.2 936.7 l9.6 9.6 l-9.6 9.6 l-9.6 -9.6 z" fill="#7f8281"/>
<path d="M1558 942.2 l9.6 9.6 l-9.6 9.6 l-9.6 -9.6 z" fill="#7f8281"/>
<path d="M1580.7 938.7 l9.6 9.6 l-9.6 9.6 l-9.6 -9.6 z" fill="#7f8281"/>
<path d="M1572.3 928 l9.6 9.6 l-9.6 9.6 l-9.6 -9.6 z" fill="#7f8281"/>
<path d="M1681.4 942.2 l9.6 9.6 l-9.6 9.6 l-9.6 -9.6 z" fill="#7f8281"/>
<path d="M1694.4 941.4 l9.6 9.6 l-9.6 9.6 l-9.6 -9.6 z" fill="#7f8281"/>
<path d="M1708.3 938.3 l9.6 9.6 l-9.6 9.6 l-9.6 -9.6 z" fill="#7f8281"/>
<path d="M1667.7 957.7 l9.6 9.6 l-9.6 9.6 l-9.6 -9.6 z" fill="#7f8281"/>
<path d="M1722.2 959.9 l9.6 9.6 l-9.6 9.6 l-9.6 -9.6 z" fill="#7f8281"/>
<path d="M1267.5 737 V746.6 M1248.3 737 H1286.7 M1259 746.6 H1266" stroke="#000" stroke-width="2" fill="none"/>
<path d="M1410.5 734.8 V746.5 M1401.7 734.8 H1420 M1390.6 746.5 H1429.4" stroke="#000" stroke-width="2" fill="none"/>
<path d="M1553 937.5 V943 M1546 937.5 H1560 M1545 943 H1566" stroke="#000" stroke-width="2" fill="none"/>
<path d="M1694.5 958 V962.1 M1694 958 H1695 M1675 962.1 H1714.6" stroke="#000" stroke-width="2" fill="none"/>
<line x1="1196.5" y1="840.2" x2="1766" y2="840.2" stroke="#000" stroke-width="2.7"/>
<line x1="1209.2" y1="741.9" x2="1326.4" y2="741.9" stroke="#000" stroke-width="3"/>
<line x1="1351.4" y1="740.6" x2="1468.6" y2="740.6" stroke="#000" stroke-width="3"/>
<line x1="1494" y1="939.2" x2="1611" y2="939.2" stroke="#000" stroke-width="3"/>
<line x1="1636.3" y1="957.7" x2="1753.4" y2="957.7" stroke="#000" stroke-width="3"/>
<path d="M1268.7 619.5 V596.6 H1411.7 V619.5" stroke="#000" stroke-width="3" fill="none" stroke-linejoin="round"/>
<text x="1344.8" y="590.7" font-size="25.6" fill="#000" stroke="#000" text-anchor="middle">n.s.</text>
<text x="1268" y="654" font-size="25.5" fill="#000" stroke="#000" text-anchor="middle">1.43 x</text>
<text x="1267.5" y="687.5" font-size="25.5" fill="#000" stroke="#000" text-anchor="middle">(9)</text>
<text x="1412" y="657.5" font-size="25.5" fill="#000" stroke="#000" text-anchor="middle">1.44 x</text>
<text x="1411.5" y="690.5" font-size="25.5" fill="#000" stroke="#000" text-anchor="middle">(9)</text>
<text x="1555.5" y="998.3" font-size="25.8" fill="#000" stroke="#000" text-anchor="middle">0.57 x</text>
<text x="1555" y="1030" font-size="25.8" fill="#000" stroke="#000" text-anchor="middle">(9)</text>
<text x="1695.5" y="1017.8" font-size="25.8" fill="#000" stroke="#000" text-anchor="middle">0.49 x</text>
<text x="1695" y="1050.5" font-size="25.8" fill="#000" stroke="#000" text-anchor="middle">(5)</text>
<text x="1272" y="881" font-size="26.2" fill="#cc2229" stroke="#cc2229" text-anchor="middle" style="stroke-width:.15px">LCa<tspan dy="6" font-size="14.7">v</tspan><tspan dy="-6">3-12a</tspan></text>
<text x="1411" y="881" font-size="26.2" fill="#f58220" stroke="#f58220" text-anchor="middle" style="stroke-width:.15px">LCa<tspan dy="6" font-size="14.7">v</tspan><tspan dy="-6">3-12b</tspan></text>
<text x="1548" y="777.6" font-size="26.2" fill="#cc2229" stroke="#cc2229" text-anchor="middle" style="stroke-width:.15px">LCa<tspan dy="6" font-size="14.7">v</tspan><tspan dy="-6">3-12a</tspan></text>
<text x="1548" y="818" font-size="26" fill="#cc2229" stroke="#cc2229" text-anchor="middle" style="stroke-width:.15px"><tspan class="d">Δ</tspan>cys</text>
<text x="1688.5" y="777.6" font-size="26.2" fill="#f58220" stroke="#f58220" text-anchor="middle" style="stroke-width:.15px">LCa<tspan dy="6" font-size="14.7">v</tspan><tspan dy="-6">3-12b</tspan></text>
<text x="1688.5" y="818" font-size="26" fill="#f58220" stroke="#f58220" text-anchor="middle" style="stroke-width:.15px"><tspan class="d">Δ</tspan>cys</text>
</g>
<defs><clipPath id="cd1"><rect x="72" y="1286.4" width="331" height="320"/></clipPath><clipPath id="cd2"><rect x="547.5" y="1286.4" width="331.7" height="320"/></clipPath></defs>
<g id="panelD">
<text transform="translate(11.5 1231.5) scale(0.93 1)" font-size="52.5" font-weight="bold" stroke="none">D</text>
<path d="M95.5 1492.4 H860" stroke="#000" stroke-width="2.5" fill="none" stroke-dasharray="10.6 7.8"/>
<text x="79.1" y="1274.8" font-size="23.5" fill="#000" stroke="#000" text-anchor="middle">-80</text>
<text x="168.8" y="1274.8" font-size="23.5" fill="#000" stroke="#000" text-anchor="middle">-60</text>
<text x="258.5" y="1274.8" font-size="23.5" fill="#000" stroke="#000" text-anchor="middle">-40</text>
<text x="348.2" y="1274.8" font-size="23.5" fill="#000" stroke="#000" text-anchor="middle">-20</text>
<path d="M80.6 1287.4 v9.3 M125.4 1287.4 v4.4 M170.3 1287.4 v9.3 M215.2 1287.4 v4.4 M260 1287.4 v9.3 M304.9 1287.4 v4.4 M349.7 1287.4 v9.3 M394.6 1287.4 v4.4" stroke="#000" stroke-width="2.3" fill="none"/>
<text x="256.5" y="1233" font-size="23.5" fill="#000" stroke="#000" text-anchor="middle">V (mV)</text>
<line x1="500.8" y1="1286.2" x2="500.8" y2="1584.7" stroke="#000" stroke-width="3.2"/>
<text x="482.5" y="1295.2" font-size="23.5" fill="#000" stroke="#000" text-anchor="end">0.00</text>
<text x="482.5" y="1346.4" font-size="23.5" fill="#000" stroke="#000" text-anchor="end">-0.25</text>
<text x="482.5" y="1397.7" font-size="23.5" fill="#000" stroke="#000" text-anchor="end">-0.50</text>
<text x="482.5" y="1449" font-size="23.5" fill="#000" stroke="#000" text-anchor="end">-0.75</text>
<text x="482.5" y="1500.3" font-size="23.5" fill="#000" stroke="#000" text-anchor="end">-1.00</text>
<text x="482.5" y="1551.5" font-size="23.5" fill="#000" stroke="#000" text-anchor="end">-1.25</text>
<path d="M490.8 1287.4 h20 M495.9 1313 h9.8 M490.8 1338.7 h20 M495.9 1364.3 h9.8 M490.8 1390 h20 M495.9 1415.6 h9.8 M490.8 1441.2 h20 M495.9 1466.9 h9.8 M490.8 1492.5 h20 M495.9 1518.1 h9.8 M490.8 1543.8 h20 M495.9 1569.4 h9.8" stroke="#000" stroke-width="2.8" fill="none"/>
<text x="554.9" y="1274.8" font-size="23.5" fill="#000" stroke="#000" text-anchor="middle">-80</text>
<text x="644.5" y="1274.8" font-size="23.5" fill="#000" stroke="#000" text-anchor="middle">-60</text>
<text x="734.2" y="1274.8" font-size="23.5" fill="#000" stroke="#000" text-anchor="middle">-40</text>
<text x="823.9" y="1274.8" font-size="23.5" fill="#000" stroke="#000" text-anchor="middle">-20</text>
<path d="M556.4 1287.4 v9.3 M601.2 1287.4 v4.4 M646 1287.4 v9.3 M690.9 1287.4 v4.4 M735.7 1287.4 v9.3 M780.5 1287.4 v4.4 M825.4 1287.4 v9.3 M870.2 1287.4 v4.4" stroke="#000" stroke-width="2.3" fill="none"/>
<text x="728.5" y="1233" font-size="23.5" fill="#000" stroke="#000" text-anchor="middle">V (mV)</text>
<path d="M72.1 1289.5 C73.5 1289.5 75.5 1289.2 80.5 1289.7 C85.4 1290.2 94.3 1290.3 101.8 1292.4 C109.3 1294.5 118.5 1297.5 125.4 1302.3 C132.4 1307 138.1 1314.5 143.6 1321.1 C149.1 1327.7 153.8 1334.8 158.2 1342 C162.7 1349.1 165.6 1354.9 170.2 1363.9 C174.7 1373 179.4 1384 185.4 1396.3 C191.4 1408.7 199.4 1425.9 206.3 1438.1 C213.3 1450.3 220.3 1462 227.2 1469.5 C234.2 1477 241.2 1480.3 248.1 1483.1 C255.1 1485.9 262.1 1486.2 269 1486.2 C276 1486.2 284 1484.6 289.9 1483.1 C295.9 1481.5 297.6 1480.8 304.6 1476.8 C311.5 1472.8 324.2 1464.4 331.7 1459 C339.2 1453.6 342.5 1450.3 349.5 1444.4 C356.5 1438.5 366.2 1429.9 373.5 1423.5 C380.9 1417 388.8 1410.3 393.8 1405.7 C398.9 1401.2 402.2 1397.9 403.9 1396.3" stroke="#858786" stroke-width="3.6" fill="none" stroke-linejoin="round" clip-path="url(#cd1)"/>
<g clip-path="url(#cd1)">
<path d="M170.3 1350.7 V1368.7 M167.3 1350.7 H173.3 M167.3 1368.7 H173.3" stroke="#858786" stroke-width="1.4" fill="none"/>
<path d="M215.2 1454.2 V1470.2 M212.2 1454.2 H218.2 M212.2 1470.2 H218.2" stroke="#858786" stroke-width="1.4" fill="none"/>
<path d="M304.9 1476.5 V1482.5 M301.9 1476.5 H307.9 M301.9 1482.5 H307.9" stroke="#858786" stroke-width="1.4" fill="none"/>
<path d="M349.7 1440.4 V1450.4 M346.7 1440.4 H352.7 M346.7 1450.4 H352.7" stroke="#858786" stroke-width="1.4" fill="none"/>
<path d="M394.6 1400.7 V1410.7 M391.6 1400.7 H397.6 M391.6 1410.7 H397.6" stroke="#858786" stroke-width="1.4" fill="none"/>
<circle cx="80.6" cy="1289.7" r="5.4" fill="#858786"/>
<circle cx="125.4" cy="1294.5" r="5.4" fill="#858786"/>
<circle cx="170.3" cy="1359.7" r="5.4" fill="#858786"/>
<circle cx="215.2" cy="1462.2" r="5.4" fill="#858786"/>
<circle cx="260" cy="1492.5" r="5.4" fill="#858786"/>
<circle cx="304.9" cy="1479.5" r="5.4" fill="#858786"/>
<circle cx="349.7" cy="1445.4" r="5.4" fill="#858786"/>
<circle cx="394.6" cy="1405.7" r="5.4" fill="#858786"/>
</g>
<path d="M72 1291.8 L80.6 1293.3 L103 1304.8 L125.4 1334.7 L147.9 1395.3 L170.3 1454.8 L192.7 1504.4 L215.2 1532.2 L237.6 1541 L260 1542 L282.4 1533.2 L304.9 1518.6 L327.3 1498.7 L349.7 1476.2 L372.1 1454.4 L394.6 1426.6 L403.9 1414.1" stroke="#85843a" stroke-width="3.6" fill="none" stroke-linejoin="round" clip-path="url(#cd1)"/>
<g clip-path="url(#cd1)">
<path d="M80.6 1290.3 V1296.3 M77.6 1290.3 H83.6 M77.6 1296.3 H83.6" stroke="#85843a" stroke-width="1.4" fill="none"/>
<path d="M103 1301.8 V1307.8 M100 1301.8 H106 M100 1307.8 H106" stroke="#85843a" stroke-width="1.4" fill="none"/>
<path d="M125.4 1329.7 V1339.7 M122.4 1329.7 H128.4 M122.4 1339.7 H128.4" stroke="#85843a" stroke-width="1.4" fill="none"/>
<path d="M147.9 1385.8 V1404.8 M144.9 1385.8 H150.9 M144.9 1404.8 H150.9" stroke="#85843a" stroke-width="1.4" fill="none"/>
<path d="M170.3 1444.8 V1464.8 M167.3 1444.8 H173.3 M167.3 1464.8 H173.3" stroke="#85843a" stroke-width="1.4" fill="none"/>
<path d="M192.7 1495.9 V1512.9 M189.7 1495.9 H195.7 M189.7 1512.9 H195.7" stroke="#85843a" stroke-width="1.4" fill="none"/>
<path d="M215.2 1524.7 V1539.7 M212.2 1524.7 H218.2 M212.2 1539.7 H218.2" stroke="#85843a" stroke-width="1.4" fill="none"/>
<path d="M237.6 1534.5 V1547.5 M234.6 1534.5 H240.6 M234.6 1547.5 H240.6" stroke="#85843a" stroke-width="1.4" fill="none"/>
<path d="M260 1536.5 V1547.5 M257 1536.5 H263 M257 1547.5 H263" stroke="#85843a" stroke-width="1.4" fill="none"/>
<path d="M282.4 1529.2 V1537.2 M279.4 1529.2 H285.4 M279.4 1537.2 H285.4" stroke="#85843a" stroke-width="1.4" fill="none"/>
<path d="M304.9 1515.6 V1521.6 M301.9 1515.6 H307.9 M301.9 1521.6 H307.9" stroke="#85843a" stroke-width="1.4" fill="none"/>
<path d="M327.3 1495.7 V1501.7 M324.3 1495.7 H330.3 M324.3 1501.7 H330.3" stroke="#85843a" stroke-width="1.4" fill="none"/>
<path d="M349.7 1473.2 V1479.2 M346.7 1473.2 H352.7 M346.7 1479.2 H352.7" stroke="#85843a" stroke-width="1.4" fill="none"/>
<path d="M372.1 1451.4 V1457.4 M369.1 1451.4 H375.1 M369.1 1457.4 H375.1" stroke="#85843a" stroke-width="1.4" fill="none"/>
<path d="M394.6 1422.6 V1430.6 M391.6 1422.6 H397.6 M391.6 1430.6 H397.6" stroke="#85843a" stroke-width="1.4" fill="none"/>
<circle cx="80.6" cy="1293.3" r="5.4" fill="#85843a"/>
<circle cx="103" cy="1304.8" r="5.4" fill="#85843a"/>
<circle cx="125.4" cy="1334.7" r="5.4" fill="#85843a"/>
<circle cx="147.9" cy="1395.3" r="5.4" fill="#85843a"/>
<circle cx="170.3" cy="1454.8" r="5.4" fill="#85843a"/>
<circle cx="192.7" cy="1504.4" r="5.4" fill="#85843a"/>
<circle cx="215.2" cy="1532.2" r="5.4" fill="#85843a"/>
<circle cx="237.6" cy="1541" r="5.4" fill="#85843a"/>
<circle cx="260" cy="1542" r="5.4" fill="#85843a"/>
<circle cx="282.4" cy="1533.2" r="5.4" fill="#85843a"/>
<circle cx="304.9" cy="1518.6" r="5.4" fill="#85843a"/>
<circle cx="327.3" cy="1498.7" r="5.4" fill="#85843a"/>
<circle cx="349.7" cy="1476.2" r="5.4" fill="#85843a"/>
<circle cx="372.1" cy="1454.4" r="5.4" fill="#85843a"/>
<circle cx="394.6" cy="1426.6" r="5.4" fill="#85843a"/>
</g>
<text x="257.9" y="1463.3" font-size="30" fill="#8a8c8e" stroke="#8a8c8e">Ca<tspan dy="-9.6" font-size="18.3">2+</tspan></text>
<text x="321.8" y="1544.5" font-size="30.5" fill="#85843a" stroke="#85843a">Sr<tspan dy="-9.8" font-size="18.6">2+</tspan></text>
<path d="M547 1292.9 L556.4 1292.9 L578.8 1294.9 L601.2 1293.9 L623.6 1306.9 L646 1348.2 L668.5 1407.8 L690.9 1453.8 L713.3 1477.8 L735.7 1488.7 L758.1 1491.4 L780.5 1485.2 L802.9 1469.9 L825.4 1452.3 L847.8 1433.9 L870.2 1411 L880.6 1397.4" stroke="#858786" stroke-width="3.6" fill="none" stroke-linejoin="round" clip-path="url(#cd2)"/>
<g clip-path="url(#cd2)">
<path d="M646 1340.7 V1355.7 M643 1340.7 H649 M643 1355.7 H649" stroke="#858786" stroke-width="1.4" fill="none"/>
<path d="M668.5 1398.8 V1416.8 M665.5 1398.8 H671.5 M665.5 1416.8 H671.5" stroke="#858786" stroke-width="1.4" fill="none"/>
<circle cx="556.4" cy="1292.9" r="5.4" fill="#858786"/>
<circle cx="578.8" cy="1294.9" r="5.4" fill="#858786"/>
<circle cx="601.2" cy="1293.9" r="5.4" fill="#858786"/>
<circle cx="623.6" cy="1306.9" r="5.4" fill="#858786"/>
<circle cx="646" cy="1348.2" r="5.4" fill="#858786"/>
<circle cx="668.5" cy="1407.8" r="5.4" fill="#858786"/>
<circle cx="690.9" cy="1453.8" r="5.4" fill="#858786"/>
<circle cx="713.3" cy="1477.8" r="5.4" fill="#858786"/>
<circle cx="735.7" cy="1488.7" r="5.4" fill="#858786"/>
<circle cx="758.1" cy="1491.4" r="5.4" fill="#858786"/>
<circle cx="780.5" cy="1485.2" r="5.4" fill="#858786"/>
<circle cx="802.9" cy="1469.9" r="5.4" fill="#858786"/>
<circle cx="825.4" cy="1452.3" r="5.4" fill="#858786"/>
<circle cx="847.8" cy="1433.9" r="5.4" fill="#858786"/>
<circle cx="870.2" cy="1411" r="5.4" fill="#858786"/>
</g>
<path d="M547 1292.4 L556.4 1292.9 L578.8 1292.9 L601.2 1297 L623.6 1319 L646 1361.8 L668.5 1400.9 L690.9 1428.7 L713.3 1445.4 L735.7 1454.4 L758.1 1453.2 L780.5 1447.5 L802.9 1437.7 L825.4 1421.4 L847.8 1402.6 L870.2 1380 L880.6 1365" stroke="#c9c565" stroke-width="3.6" fill="none" stroke-linejoin="round" clip-path="url(#cd2)"/>
<g clip-path="url(#cd2)">
<path d="M646 1357.8 V1365.8 M643 1357.8 H649 M643 1365.8 H649" stroke="#c9c565" stroke-width="1.4" fill="none"/>
<path d="M668.5 1391.4 V1410.4 M665.5 1391.4 H671.5 M665.5 1410.4 H671.5" stroke="#c9c565" stroke-width="1.4" fill="none"/>
<path d="M690.9 1417.2 V1440.2 M687.9 1417.2 H693.9 M687.9 1440.2 H693.9" stroke="#c9c565" stroke-width="1.4" fill="none"/>
<path d="M713.3 1433.9 V1456.9 M710.3 1433.9 H716.3 M710.3 1456.9 H716.3" stroke="#c9c565" stroke-width="1.4" fill="none"/>
<path d="M735.7 1443.9 V1464.9 M732.7 1443.9 H738.7 M732.7 1464.9 H738.7" stroke="#c9c565" stroke-width="1.4" fill="none"/>
<path d="M758.1 1443.2 V1463.2 M755.1 1443.2 H761.1 M755.1 1463.2 H761.1" stroke="#c9c565" stroke-width="1.4" fill="none"/>
<path d="M780.5 1438 V1457 M777.5 1438 H783.5 M777.5 1457 H783.5" stroke="#c9c565" stroke-width="1.4" fill="none"/>
<path d="M802.9 1427.7 V1447.7 M799.9 1427.7 H805.9 M799.9 1447.7 H805.9" stroke="#c9c565" stroke-width="1.4" fill="none"/>
<path d="M825.4 1412.4 V1430.4 M822.4 1412.4 H828.4 M822.4 1430.4 H828.4" stroke="#c9c565" stroke-width="1.4" fill="none"/>
<path d="M847.8 1394.1 V1411.1 M844.8 1394.1 H850.8 M844.8 1411.1 H850.8" stroke="#c9c565" stroke-width="1.4" fill="none"/>
<path d="M870.2 1373.5 V1386.5 M867.2 1373.5 H873.2 M867.2 1386.5 H873.2" stroke="#c9c565" stroke-width="1.4" fill="none"/>
<circle cx="556.4" cy="1292.9" r="5.4" fill="#c9c565"/>
<circle cx="578.8" cy="1292.9" r="5.4" fill="#c9c565"/>
<circle cx="601.2" cy="1297" r="5.4" fill="#c9c565"/>
<circle cx="623.6" cy="1319" r="5.4" fill="#c9c565"/>
<circle cx="646" cy="1361.8" r="5.4" fill="#c9c565"/>
<circle cx="668.5" cy="1400.9" r="5.4" fill="#c9c565"/>
<circle cx="690.9" cy="1428.7" r="5.4" fill="#c9c565"/>
<circle cx="713.3" cy="1445.4" r="5.4" fill="#c9c565"/>
<circle cx="735.7" cy="1454.4" r="5.4" fill="#c9c565"/>
<circle cx="758.1" cy="1453.2" r="5.4" fill="#c9c565"/>
<circle cx="780.5" cy="1447.5" r="5.4" fill="#c9c565"/>
<circle cx="802.9" cy="1437.7" r="5.4" fill="#c9c565"/>
<circle cx="825.4" cy="1421.4" r="5.4" fill="#c9c565"/>
<circle cx="847.8" cy="1402.6" r="5.4" fill="#c9c565"/>
<circle cx="870.2" cy="1380" r="5.4" fill="#c9c565"/>
</g>
<text x="716.3" y="1427.3" font-size="30.5" fill="#7f7f30" stroke="#7f7f30">Sr<tspan dy="-9.8" font-size="18.6">2+</tspan></text>
<text x="748.1" y="1548.7" font-size="30" fill="#8a8c8e" stroke="#8a8c8e">Ca<tspan dy="-9.6" font-size="18.3">2+</tspan></text>
<line x1="72.1" y1="1287.4" x2="402.9" y2="1287.4" stroke="#000" stroke-width="2.5"/>
<line x1="547.8" y1="1287.4" x2="879.2" y2="1287.4" stroke="#000" stroke-width="2.5"/>
<text x="549" y="1402" font-size="24" fill="#000" stroke="#000" text-anchor="middle" transform="rotate(-90 549 1402)">I/Imax</text>
<text x="79.5" y="1595.8" font-size="23.3" fill="#000" stroke="#000" font-weight="bold">LCav3-12b</text>
<text x="550" y="1595.8" font-size="23.3" fill="#000" stroke="#000" font-weight="bold">LCav3-12b  <tspan class="d" font-weight="bold">Δ</tspan>cys</text>
<line x1="77.3" y1="1621.7" x2="131.8" y2="1621.7" stroke="#858786" stroke-width="3.5"/>
<circle cx="104.5" cy="1621.7" r="5.5" fill="#858786"/>
<text x="138.3" y="1628.5" font-size="23.3" fill="#000" stroke="#000">Ca<tspan dy="-8.4" font-size="16.8">2+</tspan><tspan dy="8.4"> (n=8)</tspan></text>
<line x1="77.3" y1="1653.3" x2="131.8" y2="1653.3" stroke="#85843a" stroke-width="3.5"/>
<circle cx="104.5" cy="1653.3" r="5.5" fill="#85843a"/>
<text x="138.3" y="1660.2" font-size="23.3" fill="#000" stroke="#000">Sr<tspan dy="-8.4" font-size="16.8">2+</tspan><tspan dy="8.4"> (n=8)</tspan></text>
<line x1="548.3" y1="1619.3" x2="602.8" y2="1619.3" stroke="#858786" stroke-width="3.5"/>
<circle cx="575.5" cy="1619.3" r="5.5" fill="#858786"/>
<text x="608.3" y="1626" font-size="23.3" fill="#000" stroke="#000">Ca<tspan dy="-8.4" font-size="16.8">2+</tspan><tspan dy="8.4"> (n=6)</tspan></text>
<line x1="548.3" y1="1651.7" x2="602.8" y2="1651.7" stroke="#c9c565" stroke-width="3.5"/>
<circle cx="575.5" cy="1651.7" r="5.5" fill="#c9c565"/>
<text x="608.3" y="1658.7" font-size="23.3" fill="#000" stroke="#000">Sr<tspan dy="-8.4" font-size="16.8">2+</tspan><tspan dy="8.4"> (n=6)</tspan></text>
</g>
<defs><pattern id="he" patternUnits="userSpaceOnUse" width="6.2" height="6.2" patternTransform="rotate(45) translate(4.47 0)"><rect width="6.2" height="6.2" fill="#fff"/><rect width="3.4" height="6.2" fill="#85873a"/></pattern></defs>
<g id="panelE">
<text transform="translate(1038 1225) scale(0.93 1)" font-size="52.5" font-weight="bold" stroke="none">E</text>
<line x1="1196.8" y1="1205.4" x2="1196.8" y2="1663.6" stroke="#000" stroke-width="3"/>
<text x="1177" y="1215.8" font-size="25" fill="#000" stroke="#000" text-anchor="end">+2.0</text>
<text x="1177" y="1329.6" font-size="25" fill="#000" stroke="#000" text-anchor="end">+1.5</text>
<text x="1177" y="1443.4" font-size="25" fill="#000" stroke="#000" text-anchor="end">+1.0</text>
<text x="1177" y="1557.2" font-size="25" fill="#000" stroke="#000" text-anchor="end">+0.5</text>
<text x="1177" y="1671" font-size="25" fill="#000" stroke="#000" text-anchor="end">0.0</text>
<path d="M1196.8 1206.9 h-12 M1196.8 1263.8 h-6 M1196.8 1320.7 h-12 M1196.8 1377.6 h-6 M1196.8 1434.5 h-12 M1196.8 1491.4 h-6 M1196.8 1548.3 h-12 M1196.8 1605.2 h-6 M1196.8 1662.1 h-12" stroke="#000" stroke-width="3" fill="none"/>
<text x="1059.7" y="1452" font-size="25.7" fill="#000" stroke="#000" text-anchor="middle" transform="rotate(-90 1059.7 1452)">fold change in current size</text>
<text x="1097.7" y="1451" font-size="25.5" fill="#000" stroke="#000" text-anchor="middle" transform="rotate(-90 1097.7 1451)">[Ca<tspan dy="-9.2" font-size="18.4">2+</tspan><tspan dy="9.2">] to [Sr</tspan><tspan dy="-9.2" font-size="18.4">2+</tspan><tspan dy="9.2">]</tspan></text>
<rect x="1222.4" y="1379" width="93.3" height="55.5" fill="#706d2c"/>
<rect x="1367.2" y="1435.5" width="92" height="52.5" fill="url(#he)" stroke="#9a9c55" stroke-width="1.5"/>
<path d="M1239.6 1365.7 l9.5 9.5 l-9.5 9.5 l-9.5 -9.5 z" fill="#7f8281"/>
<path d="M1249.2 1364.8 l9.5 9.5 l-9.5 9.5 l-9.5 -9.5 z" fill="#7f8281"/>
<path d="M1258.8 1365.7 l9.5 9.5 l-9.5 9.5 l-9.5 -9.5 z" fill="#7f8281"/>
<path d="M1278.5 1364.8 l9.5 9.5 l-9.5 9.5 l-9.5 -9.5 z" fill="#7f8281"/>
<path d="M1298.5 1359.6 l9.5 9.5 l-9.5 9.5 l-9.5 -9.5 z" fill="#7f8281"/>
<path d="M1268.3 1381.6 l9.5 9.5 l-9.5 9.5 l-9.5 -9.5 z" fill="#7f8281"/>
<path d="M1288.4 1376.6 l9.5 9.5 l-9.5 9.5 l-9.5 -9.5 z" fill="#7f8281"/>
<path d="M1269.8 1372.4 l9.5 9.5 l-9.5 9.5 l-9.5 -9.5 z" fill="#7f8281"/>
<path d="M1398.9 1469.9 l9.5 9.5 l-9.5 9.5 l-9.5 -9.5 z" fill="#7f8281"/>
<path d="M1413.2 1472.8 l9.5 9.5 l-9.5 9.5 l-9.5 -9.5 z" fill="#7f8281"/>
<path d="M1426.6 1467.4 l9.5 9.5 l-9.5 9.5 l-9.5 -9.5 z" fill="#7f8281"/>
<path d="M1385.5 1485.6 l9.5 9.5 l-9.5 9.5 l-9.5 -9.5 z" fill="#7f8281"/>
<path d="M1398.9 1491.9 l9.5 9.5 l-9.5 9.5 l-9.5 -9.5 z" fill="#7f8281"/>
<path d="M1412.8 1492.8 l9.5 9.5 l-9.5 9.5 l-9.5 -9.5 z" fill="#7f8281"/>
<path d="M1440.9 1478.5 l9.5 9.5 l-9.5 9.5 l-9.5 -9.5 z" fill="#7f8281"/>
<path d="M1268 1376 V1382.5 M1251 1376 H1288 M1253 1382.5 H1260" stroke="#000" stroke-width="2" fill="none"/>
<path d="M1413 1486 V1491.5 M1406 1486 H1412 M1394 1491.5 H1432" stroke="#000" stroke-width="2.6" fill="none"/>
<line x1="1196.8" y1="1434.5" x2="1485.3" y2="1434.5" stroke="#000" stroke-width="2.7"/>
<line x1="1209.2" y1="1379" x2="1328.2" y2="1379" stroke="#000" stroke-width="3"/>
<line x1="1353.6" y1="1488" x2="1472.1" y2="1488" stroke="#000" stroke-width="3"/>
<text x="1263" y="1301.6" font-size="25.5" fill="#000" stroke="#000" text-anchor="middle">1.27 x</text>
<text x="1262.6" y="1334.7" font-size="25.5" fill="#000" stroke="#000" text-anchor="middle">(8)</text>
<text x="1420" y="1549.8" font-size="25.9" fill="#000" stroke="#000" text-anchor="middle">0.784 x</text>
<text x="1420.2" y="1582.8" font-size="25.9" fill="#000" stroke="#000" text-anchor="middle">(7)</text>
<text x="1413.2" y="1362.6" font-size="26.6" fill="#706d2c" stroke="#706d2c" text-anchor="middle" style="stroke-width:.15px">LCa<tspan dy="6.1" font-size="14.9">v</tspan><tspan dy="-6.1">3-12b</tspan></text>
<text x="1413.7" y="1403.8" font-size="26.4" fill="#706d2c" stroke="#706d2c" text-anchor="middle" style="stroke-width:.15px"><tspan class="d">Δ</tspan>cys</text>
<text x="1273.2" y="1479" font-size="26.6" fill="#706d2c" stroke="#706d2c" text-anchor="middle" style="stroke-width:.15px">LCa<tspan dy="6.1" font-size="14.9">v</tspan><tspan dy="-6.1">3-12b</tspan></text>
</g>
<g opacity="0.45" stroke-width="1.2" fill="none">
<path d="M161.5 1094.6h5.5M654.7 1094.6h12M720 1094.6h3M730 1094.6h8M751 1094.6h4M761 1094.6h15" stroke="#f5a46a"/>
<path d="M191.6 1094.6h5.5M635 1094.6h8M846.6 1094.6h4.5" stroke="#b0b0b0"/>
<path d="M433.6 1094.6h3M443 1094.6h2M456 1094.6h7M467.5 1094.6h2.5M477 1094.6h2.5M496 1094.6h4M530 1094.6h2.5M540 1094.6h3" stroke="#555"/>
</g>
</svg>
</body></html>
